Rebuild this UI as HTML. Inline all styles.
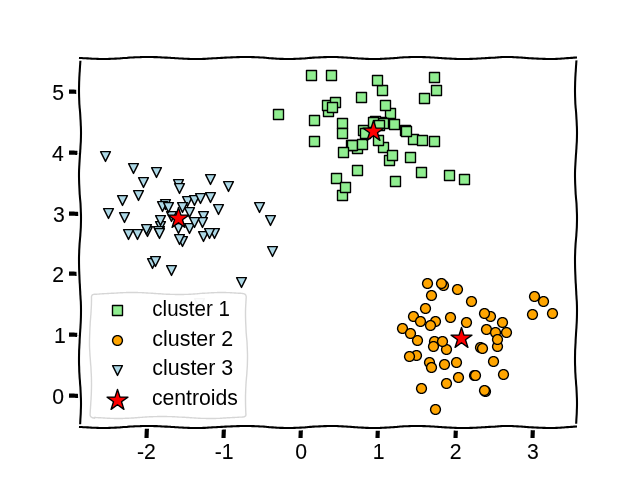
<!DOCTYPE html>
<html lang="en">
<head>
<meta charset="utf-8">
<title>k-means clusters</title>
<style>
html,body{margin:0;padding:0;background:#fff;}
body{width:640px;height:480px;overflow:hidden;}
svg{display:block;}
svg text{font-family:"Liberation Sans",sans-serif;}
</style>
</head>
<body>
<svg width="640" height="480" viewBox="0 0 640 480">
<defs>
<clipPath id="c0"><rect x="80" y="57.6" width="496" height="369.6"/></clipPath>
</defs>
<g fill="#90ee90" stroke="#000000" stroke-width="1.39" stroke-linejoin="round" clip-path="url(#c0)">
<path transform="translate(342 195)" d="M-4.50 5.50L5.50 5.50L5.50 -4.50L-4.50 -4.50Z"/>
<path transform="translate(363 130)" d="M-4.50 5.50L5.50 5.50L5.50 -4.50L-4.50 -4.50Z"/>
<path transform="translate(342 123)" d="M-4.50 5.50L5.50 5.50L5.50 -4.50L-4.50 -4.50Z"/>
<path transform="translate(424 98)" d="M-4.50 5.50L5.50 5.50L5.50 -4.50L-4.50 -4.50Z"/>
<path transform="translate(436 90)" d="M-4.50 5.50L5.50 5.50L5.50 -4.50L-4.50 -4.50Z"/>
<path transform="translate(434 77)" d="M-4.50 5.50L5.50 5.50L5.50 -4.50L-4.50 -4.50Z"/>
<path transform="translate(357 148)" d="M-4.50 5.50L5.50 5.50L5.50 -4.50L-4.50 -4.50Z"/>
<path transform="translate(314 120)" d="M-4.50 5.50L5.50 5.50L5.50 -4.50L-4.50 -4.50Z"/>
<path transform="translate(351 145)" d="M-4.50 5.50L5.50 5.50L5.50 -4.50L-4.50 -4.50Z"/>
<path transform="translate(389 160)" d="M-4.50 5.50L5.50 5.50L5.50 -4.50L-4.50 -4.50Z"/>
<path transform="translate(382 90)" d="M-4.50 5.50L5.50 5.50L5.50 -4.50L-4.50 -4.50Z"/>
<path transform="translate(395 181)" d="M-4.50 5.50L5.50 5.50L5.50 -4.50L-4.50 -4.50Z"/>
<path transform="translate(328 111)" d="M-4.50 5.50L5.50 5.50L5.50 -4.50L-4.50 -4.50Z"/>
<path transform="translate(352 145)" d="M-4.50 5.50L5.50 5.50L5.50 -4.50L-4.50 -4.50Z"/>
<path transform="translate(390 113)" d="M-4.50 5.50L5.50 5.50L5.50 -4.50L-4.50 -4.50Z"/>
<path transform="translate(327 105)" d="M-4.50 5.50L5.50 5.50L5.50 -4.50L-4.50 -4.50Z"/>
<path transform="translate(464 179)" d="M-4.50 5.50L5.50 5.50L5.50 -4.50L-4.50 -4.50Z"/>
<path transform="translate(413 139)" d="M-4.50 5.50L5.50 5.50L5.50 -4.50L-4.50 -4.50Z"/>
<path transform="translate(335 102)" d="M-4.50 5.50L5.50 5.50L5.50 -4.50L-4.50 -4.50Z"/>
<path transform="translate(385 105)" d="M-4.50 5.50L5.50 5.50L5.50 -4.50L-4.50 -4.50Z"/>
<path transform="translate(357 170)" d="M-4.50 5.50L5.50 5.50L5.50 -4.50L-4.50 -4.50Z"/>
<path transform="translate(405 130)" d="M-4.50 5.50L5.50 5.50L5.50 -4.50L-4.50 -4.50Z"/>
<path transform="translate(383 147)" d="M-4.50 5.50L5.50 5.50L5.50 -4.50L-4.50 -4.50Z"/>
<path transform="translate(381 122)" d="M-4.50 5.50L5.50 5.50L5.50 -4.50L-4.50 -4.50Z"/>
<path transform="translate(278 114)" d="M-4.50 5.50L5.50 5.50L5.50 -4.50L-4.50 -4.50Z"/>
<path transform="translate(311 75)" d="M-4.50 5.50L5.50 5.50L5.50 -4.50L-4.50 -4.50Z"/>
<path transform="translate(421 172)" d="M-4.50 5.50L5.50 5.50L5.50 -4.50L-4.50 -4.50Z"/>
<path transform="translate(331 75)" d="M-4.50 5.50L5.50 5.50L5.50 -4.50L-4.50 -4.50Z"/>
<path transform="translate(365 133)" d="M-4.50 5.50L5.50 5.50L5.50 -4.50L-4.50 -4.50Z"/>
<path transform="translate(422 140)" d="M-4.50 5.50L5.50 5.50L5.50 -4.50L-4.50 -4.50Z"/>
<path transform="translate(375 121)" d="M-4.50 5.50L5.50 5.50L5.50 -4.50L-4.50 -4.50Z"/>
<path transform="translate(336 178)" d="M-4.50 5.50L5.50 5.50L5.50 -4.50L-4.50 -4.50Z"/>
<path transform="translate(394 124)" d="M-4.50 5.50L5.50 5.50L5.50 -4.50L-4.50 -4.50Z"/>
<path transform="translate(378 140)" d="M-4.50 5.50L5.50 5.50L5.50 -4.50L-4.50 -4.50Z"/>
<path transform="translate(361 97)" d="M-4.50 5.50L5.50 5.50L5.50 -4.50L-4.50 -4.50Z"/>
<path transform="translate(449 175)" d="M-4.50 5.50L5.50 5.50L5.50 -4.50L-4.50 -4.50Z"/>
<path transform="translate(383 123)" d="M-4.50 5.50L5.50 5.50L5.50 -4.50L-4.50 -4.50Z"/>
<path transform="translate(434 141)" d="M-4.50 5.50L5.50 5.50L5.50 -4.50L-4.50 -4.50Z"/>
<path transform="translate(373 122)" d="M-4.50 5.50L5.50 5.50L5.50 -4.50L-4.50 -4.50Z"/>
<path transform="translate(332 107)" d="M-4.50 5.50L5.50 5.50L5.50 -4.50L-4.50 -4.50Z"/>
<path transform="translate(362 144)" d="M-4.50 5.50L5.50 5.50L5.50 -4.50L-4.50 -4.50Z"/>
<path transform="translate(377 80)" d="M-4.50 5.50L5.50 5.50L5.50 -4.50L-4.50 -4.50Z"/>
<path transform="translate(379 125)" d="M-4.50 5.50L5.50 5.50L5.50 -4.50L-4.50 -4.50Z"/>
<path transform="translate(410 157)" d="M-4.50 5.50L5.50 5.50L5.50 -4.50L-4.50 -4.50Z"/>
<path transform="translate(343 152)" d="M-4.50 5.50L5.50 5.50L5.50 -4.50L-4.50 -4.50Z"/>
<path transform="translate(342 133)" d="M-4.50 5.50L5.50 5.50L5.50 -4.50L-4.50 -4.50Z"/>
<path transform="translate(314 141)" d="M-4.50 5.50L5.50 5.50L5.50 -4.50L-4.50 -4.50Z"/>
<path transform="translate(345 187)" d="M-4.50 5.50L5.50 5.50L5.50 -4.50L-4.50 -4.50Z"/>
<path transform="translate(406 131)" d="M-4.50 5.50L5.50 5.50L5.50 -4.50L-4.50 -4.50Z"/>
<path transform="translate(392 155)" d="M-4.50 5.50L5.50 5.50L5.50 -4.50L-4.50 -4.50Z"/>
</g>
<g fill="#ffa500" stroke="#000000" stroke-width="1.39" stroke-linejoin="round" clip-path="url(#c0)">
<path transform="translate(502 322)" d="M0.50 5.41L1.47 5.35L3.24 4.61L3.97 3.97L4.61 3.24L5.35 1.47L5.41 0.50L5.35 -0.47L4.61 -2.24L3.97 -2.97L3.24 -3.61L1.47 -4.35L0.50 -4.41L-0.47 -4.35L-2.24 -3.61L-2.97 -2.97L-3.61 -2.24L-4.35 -0.47L-4.41 0.50L-4.35 1.47L-3.61 3.24L-2.97 3.97L-2.24 4.61L-0.47 5.35L0.50 5.41Z"/>
<path transform="translate(503 374)" d="M0.50 5.41L1.47 5.35L3.24 4.61L3.97 3.97L4.61 3.24L5.35 1.47L5.41 0.50L5.35 -0.47L4.61 -2.24L3.97 -2.97L3.24 -3.61L1.47 -4.35L0.50 -4.41L-0.47 -4.35L-2.24 -3.61L-2.97 -2.97L-3.61 -2.24L-4.35 -0.47L-4.41 0.50L-4.35 1.47L-3.61 3.24L-2.97 3.97L-2.24 4.61L-0.47 5.35L0.50 5.41Z"/>
<path transform="translate(485 391)" d="M0.50 5.41L1.47 5.35L3.24 4.61L3.97 3.97L4.61 3.24L5.35 1.47L5.41 0.50L5.35 -0.47L4.61 -2.24L3.97 -2.97L3.24 -3.61L1.47 -4.35L0.50 -4.41L-0.47 -4.35L-2.24 -3.61L-2.97 -2.97L-3.61 -2.24L-4.35 -0.47L-4.41 0.50L-4.35 1.47L-3.61 3.24L-2.97 3.97L-2.24 4.61L-0.47 5.35L0.50 5.41Z"/>
<path transform="translate(543 301)" d="M0.50 5.41L1.47 5.35L3.24 4.61L3.97 3.97L4.61 3.24L5.35 1.47L5.41 0.50L5.35 -0.47L4.61 -2.24L3.97 -2.97L3.24 -3.61L1.47 -4.35L0.50 -4.41L-0.47 -4.35L-2.24 -3.61L-2.97 -2.97L-3.61 -2.24L-4.35 -0.47L-4.41 0.50L-4.35 1.47L-3.61 3.24L-2.97 3.97L-2.24 4.61L-0.47 5.35L0.50 5.41Z"/>
<path transform="translate(446 349)" d="M0.50 5.41L1.47 5.35L3.24 4.61L3.97 3.97L4.61 3.24L5.35 1.47L5.41 0.50L5.35 -0.47L4.61 -2.24L3.97 -2.97L3.24 -3.61L1.47 -4.35L0.50 -4.41L-0.47 -4.35L-2.24 -3.61L-2.97 -2.97L-3.61 -2.24L-4.35 -0.47L-4.41 0.50L-4.35 1.47L-3.61 3.24L-2.97 3.97L-2.24 4.61L-0.47 5.35L0.50 5.41Z"/>
<path transform="translate(458 377)" d="M0.50 5.41L1.47 5.35L3.24 4.61L3.97 3.97L4.61 3.24L5.35 1.47L5.41 0.50L5.35 -0.47L4.61 -2.24L3.97 -2.97L3.24 -3.61L1.47 -4.35L0.50 -4.41L-0.47 -4.35L-2.24 -3.61L-2.97 -2.97L-3.61 -2.24L-4.35 -0.47L-4.41 0.50L-4.35 1.47L-3.61 3.24L-2.97 3.97L-2.24 4.61L-0.47 5.35L0.50 5.41Z"/>
<path transform="translate(490 316)" d="M0.50 5.41L1.47 5.35L3.24 4.61L3.97 3.97L4.61 3.24L5.35 1.47L5.41 0.50L5.35 -0.47L4.61 -2.24L3.97 -2.97L3.24 -3.61L1.47 -4.35L0.50 -4.41L-0.47 -4.35L-2.24 -3.61L-2.97 -2.97L-3.61 -2.24L-4.35 -0.47L-4.41 0.50L-4.35 1.47L-3.61 3.24L-2.97 3.97L-2.24 4.61L-0.47 5.35L0.50 5.41Z"/>
<path transform="translate(480 347)" d="M0.50 5.41L1.47 5.35L3.24 4.61L3.97 3.97L4.61 3.24L5.35 1.47L5.41 0.50L5.35 -0.47L4.61 -2.24L3.97 -2.97L3.24 -3.61L1.47 -4.35L0.50 -4.41L-0.47 -4.35L-2.24 -3.61L-2.97 -2.97L-3.61 -2.24L-4.35 -0.47L-4.41 0.50L-4.35 1.47L-3.61 3.24L-2.97 3.97L-2.24 4.61L-0.47 5.35L0.50 5.41Z"/>
<path transform="translate(484 313)" d="M0.50 5.41L1.47 5.35L3.24 4.61L3.97 3.97L4.61 3.24L5.35 1.47L5.41 0.50L5.35 -0.47L4.61 -2.24L3.97 -2.97L3.24 -3.61L1.47 -4.35L0.50 -4.41L-0.47 -4.35L-2.24 -3.61L-2.97 -2.97L-3.61 -2.24L-4.35 -0.47L-4.41 0.50L-4.35 1.47L-3.61 3.24L-2.97 3.97L-2.24 4.61L-0.47 5.35L0.50 5.41Z"/>
<path transform="translate(416 355)" d="M0.50 5.41L1.47 5.35L3.24 4.61L3.97 3.97L4.61 3.24L5.35 1.47L5.41 0.50L5.35 -0.47L4.61 -2.24L3.97 -2.97L3.24 -3.61L1.47 -4.35L0.50 -4.41L-0.47 -4.35L-2.24 -3.61L-2.97 -2.97L-3.61 -2.24L-4.35 -0.47L-4.41 0.50L-4.35 1.47L-3.61 3.24L-2.97 3.97L-2.24 4.61L-0.47 5.35L0.50 5.41Z"/>
<path transform="translate(431 295)" d="M0.50 5.41L1.47 5.35L3.24 4.61L3.97 3.97L4.61 3.24L5.35 1.47L5.41 0.50L5.35 -0.47L4.61 -2.24L3.97 -2.97L3.24 -3.61L1.47 -4.35L0.50 -4.41L-0.47 -4.35L-2.24 -3.61L-2.97 -2.97L-3.61 -2.24L-4.35 -0.47L-4.41 0.50L-4.35 1.47L-3.61 3.24L-2.97 3.97L-2.24 4.61L-0.47 5.35L0.50 5.41Z"/>
<path transform="translate(532 314)" d="M0.50 5.41L1.47 5.35L3.24 4.61L3.97 3.97L4.61 3.24L5.35 1.47L5.41 0.50L5.35 -0.47L4.61 -2.24L3.97 -2.97L3.24 -3.61L1.47 -4.35L0.50 -4.41L-0.47 -4.35L-2.24 -3.61L-2.97 -2.97L-3.61 -2.24L-4.35 -0.47L-4.41 0.50L-4.35 1.47L-3.61 3.24L-2.97 3.97L-2.24 4.61L-0.47 5.35L0.50 5.41Z"/>
<path transform="translate(435 321)" d="M0.50 5.41L1.47 5.35L3.24 4.61L3.97 3.97L4.61 3.24L5.35 1.47L5.41 0.50L5.35 -0.47L4.61 -2.24L3.97 -2.97L3.24 -3.61L1.47 -4.35L0.50 -4.41L-0.47 -4.35L-2.24 -3.61L-2.97 -2.97L-3.61 -2.24L-4.35 -0.47L-4.41 0.50L-4.35 1.47L-3.61 3.24L-2.97 3.97L-2.24 4.61L-0.47 5.35L0.50 5.41Z"/>
<path transform="translate(446 383)" d="M0.50 5.41L1.47 5.35L3.24 4.61L3.97 3.97L4.61 3.24L5.35 1.47L5.41 0.50L5.35 -0.47L4.61 -2.24L3.97 -2.97L3.24 -3.61L1.47 -4.35L0.50 -4.41L-0.47 -4.35L-2.24 -3.61L-2.97 -2.97L-3.61 -2.24L-4.35 -0.47L-4.41 0.50L-4.35 1.47L-3.61 3.24L-2.97 3.97L-2.24 4.61L-0.47 5.35L0.50 5.41Z"/>
<path transform="translate(466 322)" d="M0.50 5.41L1.47 5.35L3.24 4.61L3.97 3.97L4.61 3.24L5.35 1.47L5.41 0.50L5.35 -0.47L4.61 -2.24L3.97 -2.97L3.24 -3.61L1.47 -4.35L0.50 -4.41L-0.47 -4.35L-2.24 -3.61L-2.97 -2.97L-3.61 -2.24L-4.35 -0.47L-4.41 0.50L-4.35 1.47L-3.61 3.24L-2.97 3.97L-2.24 4.61L-0.47 5.35L0.50 5.41Z"/>
<path transform="translate(493 361)" d="M0.50 5.41L1.47 5.35L3.24 4.61L3.97 3.97L4.61 3.24L5.35 1.47L5.41 0.50L5.35 -0.47L4.61 -2.24L3.97 -2.97L3.24 -3.61L1.47 -4.35L0.50 -4.41L-0.47 -4.35L-2.24 -3.61L-2.97 -2.97L-3.61 -2.24L-4.35 -0.47L-4.41 0.50L-4.35 1.47L-3.61 3.24L-2.97 3.97L-2.24 4.61L-0.47 5.35L0.50 5.41Z"/>
<path transform="translate(443 285)" d="M0.50 5.41L1.47 5.35L3.24 4.61L3.97 3.97L4.61 3.24L5.35 1.47L5.41 0.50L5.35 -0.47L4.61 -2.24L3.97 -2.97L3.24 -3.61L1.47 -4.35L0.50 -4.41L-0.47 -4.35L-2.24 -3.61L-2.97 -2.97L-3.61 -2.24L-4.35 -0.47L-4.41 0.50L-4.35 1.47L-3.61 3.24L-2.97 3.97L-2.24 4.61L-0.47 5.35L0.50 5.41Z"/>
<path transform="translate(444 364)" d="M0.50 5.41L1.47 5.35L3.24 4.61L3.97 3.97L4.61 3.24L5.35 1.47L5.41 0.50L5.35 -0.47L4.61 -2.24L3.97 -2.97L3.24 -3.61L1.47 -4.35L0.50 -4.41L-0.47 -4.35L-2.24 -3.61L-2.97 -2.97L-3.61 -2.24L-4.35 -0.47L-4.41 0.50L-4.35 1.47L-3.61 3.24L-2.97 3.97L-2.24 4.61L-0.47 5.35L0.50 5.41Z"/>
<path transform="translate(486 329)" d="M0.50 5.41L1.47 5.35L3.24 4.61L3.97 3.97L4.61 3.24L5.35 1.47L5.41 0.50L5.35 -0.47L4.61 -2.24L3.97 -2.97L3.24 -3.61L1.47 -4.35L0.50 -4.41L-0.47 -4.35L-2.24 -3.61L-2.97 -2.97L-3.61 -2.24L-4.35 -0.47L-4.41 0.50L-4.35 1.47L-3.61 3.24L-2.97 3.97L-2.24 4.61L-0.47 5.35L0.50 5.41Z"/>
<path transform="translate(534 296)" d="M0.50 5.41L1.47 5.35L3.24 4.61L3.97 3.97L4.61 3.24L5.35 1.47L5.41 0.50L5.35 -0.47L4.61 -2.24L3.97 -2.97L3.24 -3.61L1.47 -4.35L0.50 -4.41L-0.47 -4.35L-2.24 -3.61L-2.97 -2.97L-3.61 -2.24L-4.35 -0.47L-4.41 0.50L-4.35 1.47L-3.61 3.24L-2.97 3.97L-2.24 4.61L-0.47 5.35L0.50 5.41Z"/>
<path transform="translate(427 283)" d="M0.50 5.41L1.47 5.35L3.24 4.61L3.97 3.97L4.61 3.24L5.35 1.47L5.41 0.50L5.35 -0.47L4.61 -2.24L3.97 -2.97L3.24 -3.61L1.47 -4.35L0.50 -4.41L-0.47 -4.35L-2.24 -3.61L-2.97 -2.97L-3.61 -2.24L-4.35 -0.47L-4.41 0.50L-4.35 1.47L-3.61 3.24L-2.97 3.97L-2.24 4.61L-0.47 5.35L0.50 5.41Z"/>
<path transform="translate(413 316)" d="M0.50 5.41L1.47 5.35L3.24 4.61L3.97 3.97L4.61 3.24L5.35 1.47L5.41 0.50L5.35 -0.47L4.61 -2.24L3.97 -2.97L3.24 -3.61L1.47 -4.35L0.50 -4.41L-0.47 -4.35L-2.24 -3.61L-2.97 -2.97L-3.61 -2.24L-4.35 -0.47L-4.41 0.50L-4.35 1.47L-3.61 3.24L-2.97 3.97L-2.24 4.61L-0.47 5.35L0.50 5.41Z"/>
<path transform="translate(497 346)" d="M0.50 5.41L1.47 5.35L3.24 4.61L3.97 3.97L4.61 3.24L5.35 1.47L5.41 0.50L5.35 -0.47L4.61 -2.24L3.97 -2.97L3.24 -3.61L1.47 -4.35L0.50 -4.41L-0.47 -4.35L-2.24 -3.61L-2.97 -2.97L-3.61 -2.24L-4.35 -0.47L-4.41 0.50L-4.35 1.47L-3.61 3.24L-2.97 3.97L-2.24 4.61L-0.47 5.35L0.50 5.41Z"/>
<path transform="translate(420 321)" d="M0.50 5.41L1.47 5.35L3.24 4.61L3.97 3.97L4.61 3.24L5.35 1.47L5.41 0.50L5.35 -0.47L4.61 -2.24L3.97 -2.97L3.24 -3.61L1.47 -4.35L0.50 -4.41L-0.47 -4.35L-2.24 -3.61L-2.97 -2.97L-3.61 -2.24L-4.35 -0.47L-4.41 0.50L-4.35 1.47L-3.61 3.24L-2.97 3.97L-2.24 4.61L-0.47 5.35L0.50 5.41Z"/>
<path transform="translate(434 341)" d="M0.50 5.41L1.47 5.35L3.24 4.61L3.97 3.97L4.61 3.24L5.35 1.47L5.41 0.50L5.35 -0.47L4.61 -2.24L3.97 -2.97L3.24 -3.61L1.47 -4.35L0.50 -4.41L-0.47 -4.35L-2.24 -3.61L-2.97 -2.97L-3.61 -2.24L-4.35 -0.47L-4.41 0.50L-4.35 1.47L-3.61 3.24L-2.97 3.97L-2.24 4.61L-0.47 5.35L0.50 5.41Z"/>
<path transform="translate(429 362)" d="M0.50 5.41L1.47 5.35L3.24 4.61L3.97 3.97L4.61 3.24L5.35 1.47L5.41 0.50L5.35 -0.47L4.61 -2.24L3.97 -2.97L3.24 -3.61L1.47 -4.35L0.50 -4.41L-0.47 -4.35L-2.24 -3.61L-2.97 -2.97L-3.61 -2.24L-4.35 -0.47L-4.41 0.50L-4.35 1.47L-3.61 3.24L-2.97 3.97L-2.24 4.61L-0.47 5.35L0.50 5.41Z"/>
<path transform="translate(471 301)" d="M0.50 5.41L1.47 5.35L3.24 4.61L3.97 3.97L4.61 3.24L5.35 1.47L5.41 0.50L5.35 -0.47L4.61 -2.24L3.97 -2.97L3.24 -3.61L1.47 -4.35L0.50 -4.41L-0.47 -4.35L-2.24 -3.61L-2.97 -2.97L-3.61 -2.24L-4.35 -0.47L-4.41 0.50L-4.35 1.47L-3.61 3.24L-2.97 3.97L-2.24 4.61L-0.47 5.35L0.50 5.41Z"/>
<path transform="translate(552 313)" d="M0.50 5.41L1.47 5.35L3.24 4.61L3.97 3.97L4.61 3.24L5.35 1.47L5.41 0.50L5.35 -0.47L4.61 -2.24L3.97 -2.97L3.24 -3.61L1.47 -4.35L0.50 -4.41L-0.47 -4.35L-2.24 -3.61L-2.97 -2.97L-3.61 -2.24L-4.35 -0.47L-4.41 0.50L-4.35 1.47L-3.61 3.24L-2.97 3.97L-2.24 4.61L-0.47 5.35L0.50 5.41Z"/>
<path transform="translate(495 332)" d="M0.50 5.41L1.47 5.35L3.24 4.61L3.97 3.97L4.61 3.24L5.35 1.47L5.41 0.50L5.35 -0.47L4.61 -2.24L3.97 -2.97L3.24 -3.61L1.47 -4.35L0.50 -4.41L-0.47 -4.35L-2.24 -3.61L-2.97 -2.97L-3.61 -2.24L-4.35 -0.47L-4.41 0.50L-4.35 1.47L-3.61 3.24L-2.97 3.97L-2.24 4.61L-0.47 5.35L0.50 5.41Z"/>
<path transform="translate(484 390)" d="M0.50 5.41L1.47 5.35L3.24 4.61L3.97 3.97L4.61 3.24L5.35 1.47L5.41 0.50L5.35 -0.47L4.61 -2.24L3.97 -2.97L3.24 -3.61L1.47 -4.35L0.50 -4.41L-0.47 -4.35L-2.24 -3.61L-2.97 -2.97L-3.61 -2.24L-4.35 -0.47L-4.41 0.50L-4.35 1.47L-3.61 3.24L-2.97 3.97L-2.24 4.61L-0.47 5.35L0.50 5.41Z"/>
<path transform="translate(474 375)" d="M0.50 5.41L1.47 5.35L3.24 4.61L3.97 3.97L4.61 3.24L5.35 1.47L5.41 0.50L5.35 -0.47L4.61 -2.24L3.97 -2.97L3.24 -3.61L1.47 -4.35L0.50 -4.41L-0.47 -4.35L-2.24 -3.61L-2.97 -2.97L-3.61 -2.24L-4.35 -0.47L-4.41 0.50L-4.35 1.47L-3.61 3.24L-2.97 3.97L-2.24 4.61L-0.47 5.35L0.50 5.41Z"/>
<path transform="translate(402 328)" d="M0.50 5.41L1.47 5.35L3.24 4.61L3.97 3.97L4.61 3.24L5.35 1.47L5.41 0.50L5.35 -0.47L4.61 -2.24L3.97 -2.97L3.24 -3.61L1.47 -4.35L0.50 -4.41L-0.47 -4.35L-2.24 -3.61L-2.97 -2.97L-3.61 -2.24L-4.35 -0.47L-4.41 0.50L-4.35 1.47L-3.61 3.24L-2.97 3.97L-2.24 4.61L-0.47 5.35L0.50 5.41Z"/>
<path transform="translate(433 346)" d="M0.50 5.41L1.47 5.35L3.24 4.61L3.97 3.97L4.61 3.24L5.35 1.47L5.41 0.50L5.35 -0.47L4.61 -2.24L3.97 -2.97L3.24 -3.61L1.47 -4.35L0.50 -4.41L-0.47 -4.35L-2.24 -3.61L-2.97 -2.97L-3.61 -2.24L-4.35 -0.47L-4.41 0.50L-4.35 1.47L-3.61 3.24L-2.97 3.97L-2.24 4.61L-0.47 5.35L0.50 5.41Z"/>
<path transform="translate(409 356)" d="M0.50 5.41L1.47 5.35L3.24 4.61L3.97 3.97L4.61 3.24L5.35 1.47L5.41 0.50L5.35 -0.47L4.61 -2.24L3.97 -2.97L3.24 -3.61L1.47 -4.35L0.50 -4.41L-0.47 -4.35L-2.24 -3.61L-2.97 -2.97L-3.61 -2.24L-4.35 -0.47L-4.41 0.50L-4.35 1.47L-3.61 3.24L-2.97 3.97L-2.24 4.61L-0.47 5.35L0.50 5.41Z"/>
<path transform="translate(457 289)" d="M0.50 5.41L1.47 5.35L3.24 4.61L3.97 3.97L4.61 3.24L5.35 1.47L5.41 0.50L5.35 -0.47L4.61 -2.24L3.97 -2.97L3.24 -3.61L1.47 -4.35L0.50 -4.41L-0.47 -4.35L-2.24 -3.61L-2.97 -2.97L-3.61 -2.24L-4.35 -0.47L-4.41 0.50L-4.35 1.47L-3.61 3.24L-2.97 3.97L-2.24 4.61L-0.47 5.35L0.50 5.41Z"/>
<path transform="translate(430 325)" d="M0.50 5.41L1.47 5.35L3.24 4.61L3.97 3.97L4.61 3.24L5.35 1.47L5.41 0.50L5.35 -0.47L4.61 -2.24L3.97 -2.97L3.24 -3.61L1.47 -4.35L0.50 -4.41L-0.47 -4.35L-2.24 -3.61L-2.97 -2.97L-3.61 -2.24L-4.35 -0.47L-4.41 0.50L-4.35 1.47L-3.61 3.24L-2.97 3.97L-2.24 4.61L-0.47 5.35L0.50 5.41Z"/>
<path transform="translate(497 339)" d="M0.50 5.41L1.47 5.35L3.24 4.61L3.97 3.97L4.61 3.24L5.35 1.47L5.41 0.50L5.35 -0.47L4.61 -2.24L3.97 -2.97L3.24 -3.61L1.47 -4.35L0.50 -4.41L-0.47 -4.35L-2.24 -3.61L-2.97 -2.97L-3.61 -2.24L-4.35 -0.47L-4.41 0.50L-4.35 1.47L-3.61 3.24L-2.97 3.97L-2.24 4.61L-0.47 5.35L0.50 5.41Z"/>
<path transform="translate(456 362)" d="M0.50 5.41L1.47 5.35L3.24 4.61L3.97 3.97L4.61 3.24L5.35 1.47L5.41 0.50L5.35 -0.47L4.61 -2.24L3.97 -2.97L3.24 -3.61L1.47 -4.35L0.50 -4.41L-0.47 -4.35L-2.24 -3.61L-2.97 -2.97L-3.61 -2.24L-4.35 -0.47L-4.41 0.50L-4.35 1.47L-3.61 3.24L-2.97 3.97L-2.24 4.61L-0.47 5.35L0.50 5.41Z"/>
<path transform="translate(417 340)" d="M0.50 5.41L1.47 5.35L3.24 4.61L3.97 3.97L4.61 3.24L5.35 1.47L5.41 0.50L5.35 -0.47L4.61 -2.24L3.97 -2.97L3.24 -3.61L1.47 -4.35L0.50 -4.41L-0.47 -4.35L-2.24 -3.61L-2.97 -2.97L-3.61 -2.24L-4.35 -0.47L-4.41 0.50L-4.35 1.47L-3.61 3.24L-2.97 3.97L-2.24 4.61L-0.47 5.35L0.50 5.41Z"/>
<path transform="translate(442 341)" d="M0.50 5.41L1.47 5.35L3.24 4.61L3.97 3.97L4.61 3.24L5.35 1.47L5.41 0.50L5.35 -0.47L4.61 -2.24L3.97 -2.97L3.24 -3.61L1.47 -4.35L0.50 -4.41L-0.47 -4.35L-2.24 -3.61L-2.97 -2.97L-3.61 -2.24L-4.35 -0.47L-4.41 0.50L-4.35 1.47L-3.61 3.24L-2.97 3.97L-2.24 4.61L-0.47 5.35L0.50 5.41Z"/>
<path transform="translate(506 332)" d="M0.50 5.41L1.47 5.35L3.24 4.61L3.97 3.97L4.61 3.24L5.35 1.47L5.41 0.50L5.35 -0.47L4.61 -2.24L3.97 -2.97L3.24 -3.61L1.47 -4.35L0.50 -4.41L-0.47 -4.35L-2.24 -3.61L-2.97 -2.97L-3.61 -2.24L-4.35 -0.47L-4.41 0.50L-4.35 1.47L-3.61 3.24L-2.97 3.97L-2.24 4.61L-0.47 5.35L0.50 5.41Z"/>
<path transform="translate(441 283)" d="M0.50 5.41L1.47 5.35L3.24 4.61L3.97 3.97L4.61 3.24L5.35 1.47L5.41 0.50L5.35 -0.47L4.61 -2.24L3.97 -2.97L3.24 -3.61L1.47 -4.35L0.50 -4.41L-0.47 -4.35L-2.24 -3.61L-2.97 -2.97L-3.61 -2.24L-4.35 -0.47L-4.41 0.50L-4.35 1.47L-3.61 3.24L-2.97 3.97L-2.24 4.61L-0.47 5.35L0.50 5.41Z"/>
<path transform="translate(450 317)" d="M0.50 5.41L1.47 5.35L3.24 4.61L3.97 3.97L4.61 3.24L5.35 1.47L5.41 0.50L5.35 -0.47L4.61 -2.24L3.97 -2.97L3.24 -3.61L1.47 -4.35L0.50 -4.41L-0.47 -4.35L-2.24 -3.61L-2.97 -2.97L-3.61 -2.24L-4.35 -0.47L-4.41 0.50L-4.35 1.47L-3.61 3.24L-2.97 3.97L-2.24 4.61L-0.47 5.35L0.50 5.41Z"/>
<path transform="translate(431 367)" d="M0.50 5.41L1.47 5.35L3.24 4.61L3.97 3.97L4.61 3.24L5.35 1.47L5.41 0.50L5.35 -0.47L4.61 -2.24L3.97 -2.97L3.24 -3.61L1.47 -4.35L0.50 -4.41L-0.47 -4.35L-2.24 -3.61L-2.97 -2.97L-3.61 -2.24L-4.35 -0.47L-4.41 0.50L-4.35 1.47L-3.61 3.24L-2.97 3.97L-2.24 4.61L-0.47 5.35L0.50 5.41Z"/>
<path transform="translate(410 333)" d="M0.50 5.41L1.47 5.35L3.24 4.61L3.97 3.97L4.61 3.24L5.35 1.47L5.41 0.50L5.35 -0.47L4.61 -2.24L3.97 -2.97L3.24 -3.61L1.47 -4.35L0.50 -4.41L-0.47 -4.35L-2.24 -3.61L-2.97 -2.97L-3.61 -2.24L-4.35 -0.47L-4.41 0.50L-4.35 1.47L-3.61 3.24L-2.97 3.97L-2.24 4.61L-0.47 5.35L0.50 5.41Z"/>
<path transform="translate(425 308)" d="M0.50 5.41L1.47 5.35L3.24 4.61L3.97 3.97L4.61 3.24L5.35 1.47L5.41 0.50L5.35 -0.47L4.61 -2.24L3.97 -2.97L3.24 -3.61L1.47 -4.35L0.50 -4.41L-0.47 -4.35L-2.24 -3.61L-2.97 -2.97L-3.61 -2.24L-4.35 -0.47L-4.41 0.50L-4.35 1.47L-3.61 3.24L-2.97 3.97L-2.24 4.61L-0.47 5.35L0.50 5.41Z"/>
<path transform="translate(435 409)" d="M0.50 5.41L1.47 5.35L3.24 4.61L3.97 3.97L4.61 3.24L5.35 1.47L5.41 0.50L5.35 -0.47L4.61 -2.24L3.97 -2.97L3.24 -3.61L1.47 -4.35L0.50 -4.41L-0.47 -4.35L-2.24 -3.61L-2.97 -2.97L-3.61 -2.24L-4.35 -0.47L-4.41 0.50L-4.35 1.47L-3.61 3.24L-2.97 3.97L-2.24 4.61L-0.47 5.35L0.50 5.41Z"/>
<path transform="translate(482 348)" d="M0.50 5.41L1.47 5.35L3.24 4.61L3.97 3.97L4.61 3.24L5.35 1.47L5.41 0.50L5.35 -0.47L4.61 -2.24L3.97 -2.97L3.24 -3.61L1.47 -4.35L0.50 -4.41L-0.47 -4.35L-2.24 -3.61L-2.97 -2.97L-3.61 -2.24L-4.35 -0.47L-4.41 0.50L-4.35 1.47L-3.61 3.24L-2.97 3.97L-2.24 4.61L-0.47 5.35L0.50 5.41Z"/>
<path transform="translate(475 375)" d="M0.50 5.41L1.47 5.35L3.24 4.61L3.97 3.97L4.61 3.24L5.35 1.47L5.41 0.50L5.35 -0.47L4.61 -2.24L3.97 -2.97L3.24 -3.61L1.47 -4.35L0.50 -4.41L-0.47 -4.35L-2.24 -3.61L-2.97 -2.97L-3.61 -2.24L-4.35 -0.47L-4.41 0.50L-4.35 1.47L-3.61 3.24L-2.97 3.97L-2.24 4.61L-0.47 5.35L0.50 5.41Z"/>
<path transform="translate(421 388)" d="M0.50 5.41L1.47 5.35L3.24 4.61L3.97 3.97L4.61 3.24L5.35 1.47L5.41 0.50L5.35 -0.47L4.61 -2.24L3.97 -2.97L3.24 -3.61L1.47 -4.35L0.50 -4.41L-0.47 -4.35L-2.24 -3.61L-2.97 -2.97L-3.61 -2.24L-4.35 -0.47L-4.41 0.50L-4.35 1.47L-3.61 3.24L-2.97 3.97L-2.24 4.61L-0.47 5.35L0.50 5.41Z"/>
</g>
<g fill="#add8e6" stroke="#000000" stroke-width="1.39" stroke-linejoin="round" clip-path="url(#c0)">
<path transform="translate(137 234)" d="M0.50 5.41L5.41 -4.41L-4.41 -4.41Z"/>
<path transform="translate(272 251)" d="M0.50 5.41L5.41 -4.41L-4.41 -4.41Z"/>
<path transform="translate(159 231)" d="M0.50 5.41L5.41 -4.41L-4.41 -4.41Z"/>
<path transform="translate(147 231)" d="M0.50 5.41L5.41 -4.41L-4.41 -4.41Z"/>
<path transform="translate(187 201)" d="M0.50 5.41L5.41 -4.41L-4.41 -4.41Z"/>
<path transform="translate(178 228)" d="M0.50 5.41L5.41 -4.41L-4.41 -4.41Z"/>
<path transform="translate(203 236)" d="M0.50 5.41L5.41 -4.41L-4.41 -4.41Z"/>
<path transform="translate(105 156)" d="M0.50 5.41L5.41 -4.41L-4.41 -4.41Z"/>
<path transform="translate(178 184)" d="M0.50 5.41L5.41 -4.41L-4.41 -4.41Z"/>
<path transform="translate(160 226)" d="M0.50 5.41L5.41 -4.41L-4.41 -4.41Z"/>
<path transform="translate(214 233)" d="M0.50 5.41L5.41 -4.41L-4.41 -4.41Z"/>
<path transform="translate(165 204)" d="M0.50 5.41L5.41 -4.41L-4.41 -4.41Z"/>
<path transform="translate(199 303)" d="M0.50 5.41L5.41 -4.41L-4.41 -4.41Z"/>
<path transform="translate(171 270)" d="M0.50 5.41L5.41 -4.41L-4.41 -4.41Z"/>
<path transform="translate(210 197)" d="M0.50 5.41L5.41 -4.41L-4.41 -4.41Z"/>
<path transform="translate(209 233)" d="M0.50 5.41L5.41 -4.41L-4.41 -4.41Z"/>
<path transform="translate(189 212)" d="M0.50 5.41L5.41 -4.41L-4.41 -4.41Z"/>
<path transform="translate(210 179)" d="M0.50 5.41L5.41 -4.41L-4.41 -4.41Z"/>
<path transform="translate(122 200)" d="M0.50 5.41L5.41 -4.41L-4.41 -4.41Z"/>
<path transform="translate(259 207)" d="M0.50 5.41L5.41 -4.41L-4.41 -4.41Z"/>
<path transform="translate(171 216)" d="M0.50 5.41L5.41 -4.41L-4.41 -4.41Z"/>
<path transform="translate(182 207)" d="M0.50 5.41L5.41 -4.41L-4.41 -4.41Z"/>
<path transform="translate(270 220)" d="M0.50 5.41L5.41 -4.41L-4.41 -4.41Z"/>
<path transform="translate(152 263)" d="M0.50 5.41L5.41 -4.41L-4.41 -4.41Z"/>
<path transform="translate(194 200)" d="M0.50 5.41L5.41 -4.41L-4.41 -4.41Z"/>
<path transform="translate(162 206)" d="M0.50 5.41L5.41 -4.41L-4.41 -4.41Z"/>
<path transform="translate(143 182)" d="M0.50 5.41L5.41 -4.41L-4.41 -4.41Z"/>
<path transform="translate(146 229)" d="M0.50 5.41L5.41 -4.41L-4.41 -4.41Z"/>
<path transform="translate(138 195)" d="M0.50 5.41L5.41 -4.41L-4.41 -4.41Z"/>
<path transform="translate(133 168)" d="M0.50 5.41L5.41 -4.41L-4.41 -4.41Z"/>
<path transform="translate(168 207)" d="M0.50 5.41L5.41 -4.41L-4.41 -4.41Z"/>
<path transform="translate(200 198)" d="M0.50 5.41L5.41 -4.41L-4.41 -4.41Z"/>
<path transform="translate(203 216)" d="M0.50 5.41L5.41 -4.41L-4.41 -4.41Z"/>
<path transform="translate(108 213)" d="M0.50 5.41L5.41 -4.41L-4.41 -4.41Z"/>
<path transform="translate(202 222)" d="M0.50 5.41L5.41 -4.41L-4.41 -4.41Z"/>
<path transform="translate(160 220)" d="M0.50 5.41L5.41 -4.41L-4.41 -4.41Z"/>
<path transform="translate(182 241)" d="M0.50 5.41L5.41 -4.41L-4.41 -4.41Z"/>
<path transform="translate(124 217)" d="M0.50 5.41L5.41 -4.41L-4.41 -4.41Z"/>
<path transform="translate(189 228)" d="M0.50 5.41L5.41 -4.41L-4.41 -4.41Z"/>
<path transform="translate(194 222)" d="M0.50 5.41L5.41 -4.41L-4.41 -4.41Z"/>
<path transform="translate(218 209)" d="M0.50 5.41L5.41 -4.41L-4.41 -4.41Z"/>
<path transform="translate(179 239)" d="M0.50 5.41L5.41 -4.41L-4.41 -4.41Z"/>
<path transform="translate(179 188)" d="M0.50 5.41L5.41 -4.41L-4.41 -4.41Z"/>
<path transform="translate(241 282)" d="M0.50 5.41L5.41 -4.41L-4.41 -4.41Z"/>
<path transform="translate(158 231)" d="M0.50 5.41L5.41 -4.41L-4.41 -4.41Z"/>
<path transform="translate(159 233)" d="M0.50 5.41L5.41 -4.41L-4.41 -4.41Z"/>
<path transform="translate(228 186)" d="M0.50 5.41L5.41 -4.41L-4.41 -4.41Z"/>
<path transform="translate(128 234)" d="M0.50 5.41L5.41 -4.41L-4.41 -4.41Z"/>
<path transform="translate(156 172)" d="M0.50 5.41L5.41 -4.41L-4.41 -4.41Z"/>
<path transform="translate(155 261)" d="M0.50 5.41L5.41 -4.41L-4.41 -4.41Z"/>
</g>
<g fill="#ff0000" stroke="#000000" stroke-width="1.39" stroke-linejoin="round" clip-path="url(#c0)">
<path transform="translate(373 131)" d="M0.50 -10.48L-1.97 -2.89L-9.94 -2.89L-3.49 1.80L-5.95 9.38L0.50 4.69L6.95 9.38L4.49 1.80L10.94 -2.89L2.97 -2.89Z"/>
<path transform="translate(461 338)" d="M0.50 -10.48L-1.97 -2.89L-9.94 -2.89L-3.49 1.80L-5.95 9.38L0.50 4.69L6.95 9.38L4.49 1.80L10.94 -2.89L2.97 -2.89Z"/>
<path transform="translate(178 218)" d="M0.50 -10.48L-1.97 -2.89L-9.94 -2.89L-3.49 1.80L-5.95 9.38L0.50 4.69L6.95 9.38L4.49 1.80L10.94 -2.89L2.97 -2.89Z"/>
</g>
<path d="M147.00 427.00L146.98 428.00L146.96 429.00L146.81 430.00L146.80 431.00L146.72 432.00L146.70 433.00L146.68 434.00L146.63 435.00L146.57 436.00L146.55 438.00" fill="#000000" stroke="#ffffff" stroke-width="5.56" stroke-linejoin="round"/>
<path d="M147.00 427.00L146.98 428.00L146.96 429.00L146.81 430.00L146.80 431.00L146.72 432.00L146.70 433.00L146.68 434.00L146.63 435.00L146.57 436.00L146.55 438.00" fill="#000000" stroke="#000000" stroke-width="4.17" stroke-linejoin="round"/>
<text x="137.07" y="458.9" font-size="21.19" textLength="18.84" lengthAdjust="spacingAndGlyphs" fill="#000" stroke="#000" stroke-width="0.1" stroke-linejoin="round">-2</text>
<path d="M224.00 427.00L223.98 428.00L223.96 429.00L223.81 430.00L223.80 431.00L223.72 432.00L223.70 433.00L223.68 434.00L223.63 435.00L223.57 436.00L223.55 438.00" fill="#000000" stroke="#ffffff" stroke-width="5.56" stroke-linejoin="round"/>
<path d="M224.00 427.00L223.98 428.00L223.96 429.00L223.81 430.00L223.80 431.00L223.72 432.00L223.70 433.00L223.68 434.00L223.63 435.00L223.57 436.00L223.55 438.00" fill="#000000" stroke="#000000" stroke-width="4.17" stroke-linejoin="round"/>
<text x="214.63" y="458.9" font-size="21.19" textLength="18.84" lengthAdjust="spacingAndGlyphs" fill="#000" stroke="#000" stroke-width="0.1" stroke-linejoin="round">-1</text>
<path d="M301.00 427.00L300.98 428.00L300.96 429.00L300.81 430.00L300.80 431.00L300.72 432.00L300.70 433.00L300.68 434.00L300.63 435.00L300.57 436.00L300.55 438.00" fill="#000000" stroke="#ffffff" stroke-width="5.56" stroke-linejoin="round"/>
<path d="M301.00 427.00L300.98 428.00L300.96 429.00L300.81 430.00L300.80 431.00L300.72 432.00L300.70 433.00L300.68 434.00L300.63 435.00L300.57 436.00L300.55 438.00" fill="#000000" stroke="#000000" stroke-width="4.17" stroke-linejoin="round"/>
<text x="295.19" y="458.9" font-size="21.19" textLength="11.8" lengthAdjust="spacingAndGlyphs" fill="#000" stroke="#000" stroke-width="0.1" stroke-linejoin="round">0</text>
<path d="M378.00 427.00L377.98 428.00L377.96 429.00L377.81 430.00L377.80 431.00L377.72 432.00L377.70 433.00L377.68 434.00L377.63 435.00L377.57 436.00L377.55 438.00" fill="#000000" stroke="#ffffff" stroke-width="5.56" stroke-linejoin="round"/>
<path d="M378.00 427.00L377.98 428.00L377.96 429.00L377.81 430.00L377.80 431.00L377.72 432.00L377.70 433.00L377.68 434.00L377.63 435.00L377.57 436.00L377.55 438.00" fill="#000000" stroke="#000000" stroke-width="4.17" stroke-linejoin="round"/>
<text x="372.82" y="458.9" font-size="21.19" textLength="11.8" lengthAdjust="spacingAndGlyphs" fill="#000" stroke="#000" stroke-width="0.1" stroke-linejoin="round">1</text>
<path d="M456.00 427.00L455.98 428.00L455.96 429.00L455.81 430.00L455.80 431.00L455.72 432.00L455.70 433.00L455.68 434.00L455.63 435.00L455.57 436.00L455.55 438.00" fill="#000000" stroke="#ffffff" stroke-width="5.56" stroke-linejoin="round"/>
<path d="M456.00 427.00L455.98 428.00L455.96 429.00L455.81 430.00L455.80 431.00L455.72 432.00L455.70 433.00L455.68 434.00L455.63 435.00L455.57 436.00L455.55 438.00" fill="#000000" stroke="#000000" stroke-width="4.17" stroke-linejoin="round"/>
<text x="449.78" y="458.9" font-size="21.19" textLength="11.8" lengthAdjust="spacingAndGlyphs" fill="#000" stroke="#000" stroke-width="0.1" stroke-linejoin="round">2</text>
<path d="M533.00 427.00L532.98 428.00L532.96 429.00L532.81 430.00L532.80 431.00L532.72 432.00L532.70 433.00L532.68 434.00L532.63 435.00L532.57 436.00L532.55 438.00" fill="#000000" stroke="#ffffff" stroke-width="5.56" stroke-linejoin="round"/>
<path d="M533.00 427.00L532.98 428.00L532.96 429.00L532.81 430.00L532.80 431.00L532.72 432.00L532.70 433.00L532.68 434.00L532.63 435.00L532.57 436.00L532.55 438.00" fill="#000000" stroke="#000000" stroke-width="4.17" stroke-linejoin="round"/>
<text x="526.98" y="458.9" font-size="21.19" textLength="11.8" lengthAdjust="spacingAndGlyphs" fill="#000" stroke="#000" stroke-width="0.1" stroke-linejoin="round">3</text>
<path d="M80.00 396.00L79.00 395.98L78.00 395.96L77.00 395.81L76.00 395.80L75.00 395.72L74.00 395.70L73.00 395.68L72.00 395.63L71.00 395.57L69.00 395.55" fill="#000000" stroke="#ffffff" stroke-width="5.56" stroke-linejoin="round"/>
<path d="M80.00 396.00L79.00 395.98L78.00 395.96L77.00 395.81L76.00 395.80L75.00 395.72L74.00 395.70L73.00 395.68L72.00 395.63L71.00 395.57L69.00 395.55" fill="#000000" stroke="#000000" stroke-width="4.17" stroke-linejoin="round"/>
<text x="52.15" y="403.9" font-size="21.19" textLength="11.8" lengthAdjust="spacingAndGlyphs" fill="#000" stroke="#000" stroke-width="0.1" stroke-linejoin="round">0</text>
<path d="M80.00 335.00L79.00 334.98L78.00 334.96L77.00 334.81L76.00 334.80L75.00 334.72L74.00 334.70L73.00 334.68L72.00 334.63L71.00 334.57L69.00 334.55" fill="#000000" stroke="#ffffff" stroke-width="5.56" stroke-linejoin="round"/>
<path d="M80.00 335.00L79.00 334.98L78.00 334.96L77.00 334.81L76.00 334.80L75.00 334.72L74.00 334.70L73.00 334.68L72.00 334.63L71.00 334.57L69.00 334.55" fill="#000000" stroke="#000000" stroke-width="4.17" stroke-linejoin="round"/>
<text x="54.08" y="342.9" font-size="21.19" textLength="11.8" lengthAdjust="spacingAndGlyphs" fill="#000" stroke="#000" stroke-width="0.1" stroke-linejoin="round">1</text>
<path d="M80.00 274.00L79.00 273.98L78.00 273.96L77.00 273.81L76.00 273.80L75.00 273.72L74.00 273.70L73.00 273.68L72.00 273.63L71.00 273.57L69.00 273.55" fill="#000000" stroke="#ffffff" stroke-width="5.56" stroke-linejoin="round"/>
<path d="M80.00 274.00L79.00 273.98L78.00 273.96L77.00 273.81L76.00 273.80L75.00 273.72L74.00 273.70L73.00 273.68L72.00 273.63L71.00 273.57L69.00 273.55" fill="#000000" stroke="#000000" stroke-width="4.17" stroke-linejoin="round"/>
<text x="52.28" y="281.9" font-size="21.19" textLength="11.8" lengthAdjust="spacingAndGlyphs" fill="#000" stroke="#000" stroke-width="0.1" stroke-linejoin="round">2</text>
<path d="M80.00 214.00L79.00 213.98L78.00 213.96L77.00 213.81L76.00 213.80L75.00 213.72L74.00 213.70L73.00 213.68L72.00 213.63L71.00 213.57L69.00 213.55" fill="#000000" stroke="#ffffff" stroke-width="5.56" stroke-linejoin="round"/>
<path d="M80.00 214.00L79.00 213.98L78.00 213.96L77.00 213.81L76.00 213.80L75.00 213.72L74.00 213.70L73.00 213.68L72.00 213.63L71.00 213.57L69.00 213.55" fill="#000000" stroke="#000000" stroke-width="4.17" stroke-linejoin="round"/>
<text x="52.95" y="221.9" font-size="21.19" textLength="11.8" lengthAdjust="spacingAndGlyphs" fill="#000" stroke="#000" stroke-width="0.1" stroke-linejoin="round">3</text>
<path d="M80.00 153.00L79.00 152.98L78.00 152.96L77.00 152.81L76.00 152.80L75.00 152.72L74.00 152.70L73.00 152.68L72.00 152.63L71.00 152.57L69.00 152.55" fill="#000000" stroke="#ffffff" stroke-width="5.56" stroke-linejoin="round"/>
<path d="M80.00 153.00L79.00 152.98L78.00 152.96L77.00 152.81L76.00 152.80L75.00 152.72L74.00 152.70L73.00 152.68L72.00 152.63L71.00 152.57L69.00 152.55" fill="#000000" stroke="#000000" stroke-width="4.17" stroke-linejoin="round"/>
<text x="52.03" y="160.9" font-size="21.19" textLength="11.8" lengthAdjust="spacingAndGlyphs" fill="#000" stroke="#000" stroke-width="0.1" stroke-linejoin="round">4</text>
<path d="M80.00 92.00L79.00 91.98L78.00 91.96L77.00 91.81L76.00 91.80L75.00 91.72L74.00 91.70L73.00 91.68L72.00 91.63L71.00 91.57L69.00 91.55" fill="#000000" stroke="#ffffff" stroke-width="5.56" stroke-linejoin="round"/>
<path d="M80.00 92.00L79.00 91.98L78.00 91.96L77.00 91.81L76.00 91.80L75.00 91.72L74.00 91.70L73.00 91.68L72.00 91.63L71.00 91.57L69.00 91.55" fill="#000000" stroke="#000000" stroke-width="4.17" stroke-linejoin="round"/>
<text x="52.15" y="99.9" font-size="21.19" textLength="11.8" lengthAdjust="spacingAndGlyphs" fill="#000" stroke="#000" stroke-width="0.1" stroke-linejoin="round">5</text>
<path d="M80.00 427.00L80.03 426.00L80.07 425.00L80.17 424.00L80.20 423.00L80.27 422.00L80.31 421.00L80.35 420.00L80.40 419.00L80.47 418.00L80.53 417.00L80.59 416.00L80.67 415.00L80.72 414.00L80.76 413.00L80.79 412.00L80.82 411.00L80.84 410.00L80.89 409.00L80.92 408.00L80.95 407.00L80.98 406.00L80.99 405.00L81.00 404.00L81.00 403.00L80.99 402.00L80.98 401.00L80.95 400.00L80.94 399.00L80.90 398.00L80.85 397.00L80.81 396.00L80.77 395.00L80.73 394.00L80.69 393.00L80.63 392.00L80.59 391.00L80.54 390.00L80.47 389.00L80.44 388.00L80.38 387.00L80.27 386.00L80.20 385.00L80.08 384.00L80.04 383.00L79.98 382.00L79.93 381.00L79.85 380.00L79.73 379.00L79.66 378.00L79.58 377.00L79.54 376.00L79.49 375.00L79.42 374.00L79.36 373.00L79.28 372.00L79.25 371.00L79.23 370.00L79.20 369.00L79.18 368.00L79.16 367.00L79.11 366.00L79.07 365.00L79.04 364.00L79.02 363.00L79.01 362.00L79.00 361.00L79.00 360.00L79.00 359.00L79.00 358.00L79.02 357.00L79.02 356.00L79.05 355.00L79.07 354.00L79.09 353.00L79.10 352.00L79.12 351.00L79.14 350.00L79.20 349.00L79.28 348.00L79.31 347.00L79.38 346.00L79.43 345.00L79.47 344.00L79.56 343.00L79.59 342.00L79.62 341.00L79.65 340.00L79.70 339.00L79.77 338.00L79.81 337.00L79.90 336.00L79.95 335.00L80.00 334.00L80.04 333.00L80.14 332.00L80.19 331.00L80.25 330.00L80.32 329.00L80.42 328.00L80.46 327.00L80.51 326.00L80.57 325.00L80.62 324.00L80.70 323.00L80.73 322.00L80.80 321.00L80.82 320.00L80.85 319.00L80.89 318.00L80.92 317.00L80.93 316.00L80.96 315.00L80.97 314.00L80.98 313.00L80.99 312.00L81.00 311.00L81.00 310.00L80.99 309.00L80.98 308.00L80.97 307.00L80.95 306.00L80.93 305.00L80.89 304.00L80.86 303.00L80.84 302.00L80.77 301.00L80.70 300.00L80.60 299.00L80.55 298.00L80.50 297.00L80.46 296.00L80.36 295.00L80.30 294.00L80.27 293.00L80.24 292.00L80.18 291.00L80.11 290.00L80.06 289.00L79.99 288.00L79.96 287.00L79.91 286.00L79.87 285.00L79.81 284.00L79.70 283.00L79.65 282.00L79.61 281.00L79.56 280.00L79.50 279.00L79.47 278.00L79.44 277.00L79.40 276.00L79.37 275.00L79.31 274.00L79.27 273.00L79.24 272.00L79.19 271.00L79.16 270.00L79.14 269.00L79.10 268.00L79.08 267.00L79.07 266.00L79.05 265.00L79.03 264.00L79.02 263.00L79.01 262.00L79.01 261.00L79.00 260.00L79.00 259.00L79.00 258.00L79.02 257.00L79.04 256.00L79.09 255.00L79.11 254.00L79.15 253.00L79.19 252.00L79.21 251.00L79.23 250.00L79.30 249.00L79.35 248.00L79.42 247.00L79.45 246.00L79.53 245.00L79.57 244.00L79.64 243.00L79.75 242.00L79.82 241.00L79.92 240.00L79.98 239.00L80.10 238.00L80.17 237.00L80.29 236.00L80.34 235.00L80.37 234.00L80.46 233.00L80.52 232.00L80.60 231.00L80.67 230.00L80.72 229.00L80.79 228.00L80.84 227.00L80.86 226.00L80.89 225.00L80.91 224.00L80.93 223.00L80.96 222.00L80.98 221.00L80.99 220.00L80.99 219.00L81.00 218.00L81.00 217.00L80.99 216.00L80.98 215.00L80.94 214.00L80.91 213.00L80.87 212.00L80.81 211.00L80.79 210.00L80.74 209.00L80.71 208.00L80.65 207.00L80.62 206.00L80.57 205.00L80.54 204.00L80.46 203.00L80.39 202.00L80.28 201.00L80.20 200.00L80.08 199.00L80.01 198.00L79.90 197.00L79.86 196.00L79.75 195.00L79.66 194.00L79.61 193.00L79.58 192.00L79.52 191.00L79.48 190.00L79.45 189.00L79.38 188.00L79.34 187.00L79.29 186.00L79.24 185.00L79.19 184.00L79.15 183.00L79.12 182.00L79.11 181.00L79.07 180.00L79.05 179.00L79.03 178.00L79.01 177.00L79.00 176.00L79.00 175.00L79.00 174.00L79.01 173.00L79.03 172.00L79.06 171.00L79.08 170.00L79.13 169.00L79.18 168.00L79.23 167.00L79.28 166.00L79.35 165.00L79.40 164.00L79.45 163.00L79.52 162.00L79.58 161.00L79.63 160.00L79.71 159.00L79.76 158.00L79.83 157.00L79.86 156.00L79.93 155.00L80.03 154.00L80.09 153.00L80.19 152.00L80.22 151.00L80.27 150.00L80.39 149.00L80.42 148.00L80.48 147.00L80.51 146.00L80.60 145.00L80.64 144.00L80.73 143.00L80.79 142.00L80.85 141.00L80.87 140.00L80.89 139.00L80.92 138.00L80.95 137.00L80.96 136.00L80.98 135.00L81.00 134.00L81.00 133.00L81.00 132.00L80.98 131.00L80.97 130.00L80.95 129.00L80.92 128.00L80.90 127.00L80.84 126.00L80.77 125.00L80.75 124.00L80.71 123.00L80.66 122.00L80.62 121.00L80.56 120.00L80.46 119.00L80.42 118.00L80.37 117.00L80.31 116.00L80.26 115.00L80.20 114.00L80.14 113.00L80.07 112.00L79.95 111.00L79.90 110.00L79.79 109.00L79.68 108.00L79.57 107.00L79.54 106.00L79.44 105.00L79.36 104.00L79.32 103.00L79.28 102.00L79.26 101.00L79.20 100.00L79.18 99.00L79.15 98.00L79.10 97.00L79.08 96.00L79.06 95.00L79.04 94.00L79.03 93.00L79.01 92.00L79.00 91.00L79.00 90.00L79.01 89.00L79.02 88.00L79.04 87.00L79.07 86.00L79.08 85.00L79.11 84.00L79.13 83.00L79.15 82.00L79.20 81.00L79.24 80.00L79.28 79.00L79.31 78.00L79.35 77.00L79.43 76.00L79.47 75.00L79.54 74.00L79.58 73.00L79.69 72.00L79.77 71.00L79.80 70.00L79.86 69.00L79.93 68.00L79.99 67.00L80.03 66.00L80.14 65.00L80.20 64.00L80.25 63.00L80.35 62.00L80.39 61.00L80.42 60.00L80.52 58.00" fill="none" stroke="#ffffff" stroke-width="5.56" stroke-linecap="square"/>
<path d="M80.00 427.00L80.03 426.00L80.07 425.00L80.17 424.00L80.20 423.00L80.27 422.00L80.31 421.00L80.35 420.00L80.40 419.00L80.47 418.00L80.53 417.00L80.59 416.00L80.67 415.00L80.72 414.00L80.76 413.00L80.79 412.00L80.82 411.00L80.84 410.00L80.89 409.00L80.92 408.00L80.95 407.00L80.98 406.00L80.99 405.00L81.00 404.00L81.00 403.00L80.99 402.00L80.98 401.00L80.95 400.00L80.94 399.00L80.90 398.00L80.85 397.00L80.81 396.00L80.77 395.00L80.73 394.00L80.69 393.00L80.63 392.00L80.59 391.00L80.54 390.00L80.47 389.00L80.44 388.00L80.38 387.00L80.27 386.00L80.20 385.00L80.08 384.00L80.04 383.00L79.98 382.00L79.93 381.00L79.85 380.00L79.73 379.00L79.66 378.00L79.58 377.00L79.54 376.00L79.49 375.00L79.42 374.00L79.36 373.00L79.28 372.00L79.25 371.00L79.23 370.00L79.20 369.00L79.18 368.00L79.16 367.00L79.11 366.00L79.07 365.00L79.04 364.00L79.02 363.00L79.01 362.00L79.00 361.00L79.00 360.00L79.00 359.00L79.00 358.00L79.02 357.00L79.02 356.00L79.05 355.00L79.07 354.00L79.09 353.00L79.10 352.00L79.12 351.00L79.14 350.00L79.20 349.00L79.28 348.00L79.31 347.00L79.38 346.00L79.43 345.00L79.47 344.00L79.56 343.00L79.59 342.00L79.62 341.00L79.65 340.00L79.70 339.00L79.77 338.00L79.81 337.00L79.90 336.00L79.95 335.00L80.00 334.00L80.04 333.00L80.14 332.00L80.19 331.00L80.25 330.00L80.32 329.00L80.42 328.00L80.46 327.00L80.51 326.00L80.57 325.00L80.62 324.00L80.70 323.00L80.73 322.00L80.80 321.00L80.82 320.00L80.85 319.00L80.89 318.00L80.92 317.00L80.93 316.00L80.96 315.00L80.97 314.00L80.98 313.00L80.99 312.00L81.00 311.00L81.00 310.00L80.99 309.00L80.98 308.00L80.97 307.00L80.95 306.00L80.93 305.00L80.89 304.00L80.86 303.00L80.84 302.00L80.77 301.00L80.70 300.00L80.60 299.00L80.55 298.00L80.50 297.00L80.46 296.00L80.36 295.00L80.30 294.00L80.27 293.00L80.24 292.00L80.18 291.00L80.11 290.00L80.06 289.00L79.99 288.00L79.96 287.00L79.91 286.00L79.87 285.00L79.81 284.00L79.70 283.00L79.65 282.00L79.61 281.00L79.56 280.00L79.50 279.00L79.47 278.00L79.44 277.00L79.40 276.00L79.37 275.00L79.31 274.00L79.27 273.00L79.24 272.00L79.19 271.00L79.16 270.00L79.14 269.00L79.10 268.00L79.08 267.00L79.07 266.00L79.05 265.00L79.03 264.00L79.02 263.00L79.01 262.00L79.01 261.00L79.00 260.00L79.00 259.00L79.00 258.00L79.02 257.00L79.04 256.00L79.09 255.00L79.11 254.00L79.15 253.00L79.19 252.00L79.21 251.00L79.23 250.00L79.30 249.00L79.35 248.00L79.42 247.00L79.45 246.00L79.53 245.00L79.57 244.00L79.64 243.00L79.75 242.00L79.82 241.00L79.92 240.00L79.98 239.00L80.10 238.00L80.17 237.00L80.29 236.00L80.34 235.00L80.37 234.00L80.46 233.00L80.52 232.00L80.60 231.00L80.67 230.00L80.72 229.00L80.79 228.00L80.84 227.00L80.86 226.00L80.89 225.00L80.91 224.00L80.93 223.00L80.96 222.00L80.98 221.00L80.99 220.00L80.99 219.00L81.00 218.00L81.00 217.00L80.99 216.00L80.98 215.00L80.94 214.00L80.91 213.00L80.87 212.00L80.81 211.00L80.79 210.00L80.74 209.00L80.71 208.00L80.65 207.00L80.62 206.00L80.57 205.00L80.54 204.00L80.46 203.00L80.39 202.00L80.28 201.00L80.20 200.00L80.08 199.00L80.01 198.00L79.90 197.00L79.86 196.00L79.75 195.00L79.66 194.00L79.61 193.00L79.58 192.00L79.52 191.00L79.48 190.00L79.45 189.00L79.38 188.00L79.34 187.00L79.29 186.00L79.24 185.00L79.19 184.00L79.15 183.00L79.12 182.00L79.11 181.00L79.07 180.00L79.05 179.00L79.03 178.00L79.01 177.00L79.00 176.00L79.00 175.00L79.00 174.00L79.01 173.00L79.03 172.00L79.06 171.00L79.08 170.00L79.13 169.00L79.18 168.00L79.23 167.00L79.28 166.00L79.35 165.00L79.40 164.00L79.45 163.00L79.52 162.00L79.58 161.00L79.63 160.00L79.71 159.00L79.76 158.00L79.83 157.00L79.86 156.00L79.93 155.00L80.03 154.00L80.09 153.00L80.19 152.00L80.22 151.00L80.27 150.00L80.39 149.00L80.42 148.00L80.48 147.00L80.51 146.00L80.60 145.00L80.64 144.00L80.73 143.00L80.79 142.00L80.85 141.00L80.87 140.00L80.89 139.00L80.92 138.00L80.95 137.00L80.96 136.00L80.98 135.00L81.00 134.00L81.00 133.00L81.00 132.00L80.98 131.00L80.97 130.00L80.95 129.00L80.92 128.00L80.90 127.00L80.84 126.00L80.77 125.00L80.75 124.00L80.71 123.00L80.66 122.00L80.62 121.00L80.56 120.00L80.46 119.00L80.42 118.00L80.37 117.00L80.31 116.00L80.26 115.00L80.20 114.00L80.14 113.00L80.07 112.00L79.95 111.00L79.90 110.00L79.79 109.00L79.68 108.00L79.57 107.00L79.54 106.00L79.44 105.00L79.36 104.00L79.32 103.00L79.28 102.00L79.26 101.00L79.20 100.00L79.18 99.00L79.15 98.00L79.10 97.00L79.08 96.00L79.06 95.00L79.04 94.00L79.03 93.00L79.01 92.00L79.00 91.00L79.00 90.00L79.01 89.00L79.02 88.00L79.04 87.00L79.07 86.00L79.08 85.00L79.11 84.00L79.13 83.00L79.15 82.00L79.20 81.00L79.24 80.00L79.28 79.00L79.31 78.00L79.35 77.00L79.43 76.00L79.47 75.00L79.54 74.00L79.58 73.00L79.69 72.00L79.77 71.00L79.80 70.00L79.86 69.00L79.93 68.00L79.99 67.00L80.03 66.00L80.14 65.00L80.20 64.00L80.25 63.00L80.35 62.00L80.39 61.00L80.42 60.00L80.52 58.00" fill="none" stroke="#000000" stroke-width="2.08" stroke-linecap="square"/>
<path d="M576.00 427.00L576.03 426.00L576.07 425.00L576.17 424.00L576.20 423.00L576.27 422.00L576.31 421.00L576.35 420.00L576.40 419.00L576.47 418.00L576.53 417.00L576.59 416.00L576.67 415.00L576.72 414.00L576.76 413.00L576.79 412.00L576.82 411.00L576.84 410.00L576.89 409.00L576.92 408.00L576.95 407.00L576.98 406.00L576.99 405.00L577.00 404.00L577.00 403.00L576.99 402.00L576.98 401.00L576.95 400.00L576.94 399.00L576.90 398.00L576.85 397.00L576.81 396.00L576.77 395.00L576.73 394.00L576.69 393.00L576.63 392.00L576.59 391.00L576.54 390.00L576.47 389.00L576.44 388.00L576.38 387.00L576.27 386.00L576.20 385.00L576.08 384.00L576.04 383.00L575.98 382.00L575.93 381.00L575.85 380.00L575.73 379.00L575.66 378.00L575.58 377.00L575.54 376.00L575.49 375.00L575.42 374.00L575.36 373.00L575.28 372.00L575.25 371.00L575.23 370.00L575.20 369.00L575.18 368.00L575.16 367.00L575.11 366.00L575.07 365.00L575.04 364.00L575.02 363.00L575.01 362.00L575.00 361.00L575.00 360.00L575.00 359.00L575.00 358.00L575.02 357.00L575.02 356.00L575.05 355.00L575.07 354.00L575.09 353.00L575.10 352.00L575.12 351.00L575.14 350.00L575.20 349.00L575.28 348.00L575.31 347.00L575.38 346.00L575.43 345.00L575.47 344.00L575.56 343.00L575.59 342.00L575.62 341.00L575.65 340.00L575.70 339.00L575.77 338.00L575.81 337.00L575.90 336.00L575.95 335.00L576.00 334.00L576.04 333.00L576.14 332.00L576.19 331.00L576.25 330.00L576.32 329.00L576.42 328.00L576.46 327.00L576.51 326.00L576.57 325.00L576.62 324.00L576.70 323.00L576.73 322.00L576.80 321.00L576.82 320.00L576.85 319.00L576.89 318.00L576.92 317.00L576.93 316.00L576.96 315.00L576.97 314.00L576.98 313.00L576.99 312.00L577.00 311.00L577.00 310.00L576.99 309.00L576.98 308.00L576.97 307.00L576.95 306.00L576.93 305.00L576.89 304.00L576.86 303.00L576.84 302.00L576.77 301.00L576.70 300.00L576.60 299.00L576.55 298.00L576.50 297.00L576.46 296.00L576.36 295.00L576.30 294.00L576.27 293.00L576.24 292.00L576.18 291.00L576.11 290.00L576.06 289.00L575.99 288.00L575.96 287.00L575.91 286.00L575.87 285.00L575.81 284.00L575.70 283.00L575.65 282.00L575.61 281.00L575.56 280.00L575.50 279.00L575.47 278.00L575.44 277.00L575.40 276.00L575.37 275.00L575.31 274.00L575.27 273.00L575.24 272.00L575.19 271.00L575.16 270.00L575.14 269.00L575.10 268.00L575.08 267.00L575.07 266.00L575.05 265.00L575.03 264.00L575.02 263.00L575.01 262.00L575.01 261.00L575.00 260.00L575.00 259.00L575.00 258.00L575.02 257.00L575.04 256.00L575.09 255.00L575.11 254.00L575.15 253.00L575.19 252.00L575.21 251.00L575.23 250.00L575.30 249.00L575.35 248.00L575.42 247.00L575.45 246.00L575.53 245.00L575.57 244.00L575.64 243.00L575.75 242.00L575.82 241.00L575.92 240.00L575.98 239.00L576.10 238.00L576.17 237.00L576.29 236.00L576.34 235.00L576.37 234.00L576.46 233.00L576.52 232.00L576.60 231.00L576.67 230.00L576.72 229.00L576.79 228.00L576.84 227.00L576.86 226.00L576.89 225.00L576.91 224.00L576.93 223.00L576.96 222.00L576.98 221.00L576.99 220.00L576.99 219.00L577.00 218.00L577.00 217.00L576.99 216.00L576.98 215.00L576.94 214.00L576.91 213.00L576.87 212.00L576.81 211.00L576.79 210.00L576.74 209.00L576.71 208.00L576.65 207.00L576.62 206.00L576.57 205.00L576.54 204.00L576.46 203.00L576.39 202.00L576.28 201.00L576.20 200.00L576.08 199.00L576.01 198.00L575.90 197.00L575.86 196.00L575.75 195.00L575.66 194.00L575.61 193.00L575.58 192.00L575.52 191.00L575.48 190.00L575.45 189.00L575.38 188.00L575.34 187.00L575.29 186.00L575.24 185.00L575.19 184.00L575.15 183.00L575.12 182.00L575.11 181.00L575.07 180.00L575.05 179.00L575.03 178.00L575.01 177.00L575.00 176.00L575.00 175.00L575.00 174.00L575.01 173.00L575.03 172.00L575.06 171.00L575.08 170.00L575.13 169.00L575.18 168.00L575.23 167.00L575.28 166.00L575.35 165.00L575.40 164.00L575.45 163.00L575.52 162.00L575.58 161.00L575.63 160.00L575.71 159.00L575.76 158.00L575.83 157.00L575.86 156.00L575.93 155.00L576.03 154.00L576.09 153.00L576.19 152.00L576.22 151.00L576.27 150.00L576.39 149.00L576.42 148.00L576.48 147.00L576.51 146.00L576.60 145.00L576.64 144.00L576.73 143.00L576.79 142.00L576.85 141.00L576.87 140.00L576.89 139.00L576.92 138.00L576.95 137.00L576.96 136.00L576.98 135.00L577.00 134.00L577.00 133.00L577.00 132.00L576.98 131.00L576.97 130.00L576.95 129.00L576.92 128.00L576.90 127.00L576.84 126.00L576.77 125.00L576.75 124.00L576.71 123.00L576.66 122.00L576.62 121.00L576.56 120.00L576.46 119.00L576.42 118.00L576.37 117.00L576.31 116.00L576.26 115.00L576.20 114.00L576.14 113.00L576.07 112.00L575.95 111.00L575.90 110.00L575.79 109.00L575.68 108.00L575.57 107.00L575.54 106.00L575.44 105.00L575.36 104.00L575.32 103.00L575.28 102.00L575.26 101.00L575.20 100.00L575.18 99.00L575.15 98.00L575.10 97.00L575.08 96.00L575.06 95.00L575.04 94.00L575.03 93.00L575.01 92.00L575.00 91.00L575.00 90.00L575.01 89.00L575.02 88.00L575.04 87.00L575.07 86.00L575.08 85.00L575.11 84.00L575.13 83.00L575.15 82.00L575.20 81.00L575.24 80.00L575.28 79.00L575.31 78.00L575.35 77.00L575.43 76.00L575.47 75.00L575.54 74.00L575.58 73.00L575.69 72.00L575.77 71.00L575.80 70.00L575.86 69.00L575.93 68.00L575.99 67.00L576.03 66.00L576.14 65.00L576.20 64.00L576.25 63.00L576.35 62.00L576.39 61.00L576.42 60.00L576.52 58.00" fill="none" stroke="#ffffff" stroke-width="5.56" stroke-linecap="square"/>
<path d="M576.00 427.00L576.03 426.00L576.07 425.00L576.17 424.00L576.20 423.00L576.27 422.00L576.31 421.00L576.35 420.00L576.40 419.00L576.47 418.00L576.53 417.00L576.59 416.00L576.67 415.00L576.72 414.00L576.76 413.00L576.79 412.00L576.82 411.00L576.84 410.00L576.89 409.00L576.92 408.00L576.95 407.00L576.98 406.00L576.99 405.00L577.00 404.00L577.00 403.00L576.99 402.00L576.98 401.00L576.95 400.00L576.94 399.00L576.90 398.00L576.85 397.00L576.81 396.00L576.77 395.00L576.73 394.00L576.69 393.00L576.63 392.00L576.59 391.00L576.54 390.00L576.47 389.00L576.44 388.00L576.38 387.00L576.27 386.00L576.20 385.00L576.08 384.00L576.04 383.00L575.98 382.00L575.93 381.00L575.85 380.00L575.73 379.00L575.66 378.00L575.58 377.00L575.54 376.00L575.49 375.00L575.42 374.00L575.36 373.00L575.28 372.00L575.25 371.00L575.23 370.00L575.20 369.00L575.18 368.00L575.16 367.00L575.11 366.00L575.07 365.00L575.04 364.00L575.02 363.00L575.01 362.00L575.00 361.00L575.00 360.00L575.00 359.00L575.00 358.00L575.02 357.00L575.02 356.00L575.05 355.00L575.07 354.00L575.09 353.00L575.10 352.00L575.12 351.00L575.14 350.00L575.20 349.00L575.28 348.00L575.31 347.00L575.38 346.00L575.43 345.00L575.47 344.00L575.56 343.00L575.59 342.00L575.62 341.00L575.65 340.00L575.70 339.00L575.77 338.00L575.81 337.00L575.90 336.00L575.95 335.00L576.00 334.00L576.04 333.00L576.14 332.00L576.19 331.00L576.25 330.00L576.32 329.00L576.42 328.00L576.46 327.00L576.51 326.00L576.57 325.00L576.62 324.00L576.70 323.00L576.73 322.00L576.80 321.00L576.82 320.00L576.85 319.00L576.89 318.00L576.92 317.00L576.93 316.00L576.96 315.00L576.97 314.00L576.98 313.00L576.99 312.00L577.00 311.00L577.00 310.00L576.99 309.00L576.98 308.00L576.97 307.00L576.95 306.00L576.93 305.00L576.89 304.00L576.86 303.00L576.84 302.00L576.77 301.00L576.70 300.00L576.60 299.00L576.55 298.00L576.50 297.00L576.46 296.00L576.36 295.00L576.30 294.00L576.27 293.00L576.24 292.00L576.18 291.00L576.11 290.00L576.06 289.00L575.99 288.00L575.96 287.00L575.91 286.00L575.87 285.00L575.81 284.00L575.70 283.00L575.65 282.00L575.61 281.00L575.56 280.00L575.50 279.00L575.47 278.00L575.44 277.00L575.40 276.00L575.37 275.00L575.31 274.00L575.27 273.00L575.24 272.00L575.19 271.00L575.16 270.00L575.14 269.00L575.10 268.00L575.08 267.00L575.07 266.00L575.05 265.00L575.03 264.00L575.02 263.00L575.01 262.00L575.01 261.00L575.00 260.00L575.00 259.00L575.00 258.00L575.02 257.00L575.04 256.00L575.09 255.00L575.11 254.00L575.15 253.00L575.19 252.00L575.21 251.00L575.23 250.00L575.30 249.00L575.35 248.00L575.42 247.00L575.45 246.00L575.53 245.00L575.57 244.00L575.64 243.00L575.75 242.00L575.82 241.00L575.92 240.00L575.98 239.00L576.10 238.00L576.17 237.00L576.29 236.00L576.34 235.00L576.37 234.00L576.46 233.00L576.52 232.00L576.60 231.00L576.67 230.00L576.72 229.00L576.79 228.00L576.84 227.00L576.86 226.00L576.89 225.00L576.91 224.00L576.93 223.00L576.96 222.00L576.98 221.00L576.99 220.00L576.99 219.00L577.00 218.00L577.00 217.00L576.99 216.00L576.98 215.00L576.94 214.00L576.91 213.00L576.87 212.00L576.81 211.00L576.79 210.00L576.74 209.00L576.71 208.00L576.65 207.00L576.62 206.00L576.57 205.00L576.54 204.00L576.46 203.00L576.39 202.00L576.28 201.00L576.20 200.00L576.08 199.00L576.01 198.00L575.90 197.00L575.86 196.00L575.75 195.00L575.66 194.00L575.61 193.00L575.58 192.00L575.52 191.00L575.48 190.00L575.45 189.00L575.38 188.00L575.34 187.00L575.29 186.00L575.24 185.00L575.19 184.00L575.15 183.00L575.12 182.00L575.11 181.00L575.07 180.00L575.05 179.00L575.03 178.00L575.01 177.00L575.00 176.00L575.00 175.00L575.00 174.00L575.01 173.00L575.03 172.00L575.06 171.00L575.08 170.00L575.13 169.00L575.18 168.00L575.23 167.00L575.28 166.00L575.35 165.00L575.40 164.00L575.45 163.00L575.52 162.00L575.58 161.00L575.63 160.00L575.71 159.00L575.76 158.00L575.83 157.00L575.86 156.00L575.93 155.00L576.03 154.00L576.09 153.00L576.19 152.00L576.22 151.00L576.27 150.00L576.39 149.00L576.42 148.00L576.48 147.00L576.51 146.00L576.60 145.00L576.64 144.00L576.73 143.00L576.79 142.00L576.85 141.00L576.87 140.00L576.89 139.00L576.92 138.00L576.95 137.00L576.96 136.00L576.98 135.00L577.00 134.00L577.00 133.00L577.00 132.00L576.98 131.00L576.97 130.00L576.95 129.00L576.92 128.00L576.90 127.00L576.84 126.00L576.77 125.00L576.75 124.00L576.71 123.00L576.66 122.00L576.62 121.00L576.56 120.00L576.46 119.00L576.42 118.00L576.37 117.00L576.31 116.00L576.26 115.00L576.20 114.00L576.14 113.00L576.07 112.00L575.95 111.00L575.90 110.00L575.79 109.00L575.68 108.00L575.57 107.00L575.54 106.00L575.44 105.00L575.36 104.00L575.32 103.00L575.28 102.00L575.26 101.00L575.20 100.00L575.18 99.00L575.15 98.00L575.10 97.00L575.08 96.00L575.06 95.00L575.04 94.00L575.03 93.00L575.01 92.00L575.00 91.00L575.00 90.00L575.01 89.00L575.02 88.00L575.04 87.00L575.07 86.00L575.08 85.00L575.11 84.00L575.13 83.00L575.15 82.00L575.20 81.00L575.24 80.00L575.28 79.00L575.31 78.00L575.35 77.00L575.43 76.00L575.47 75.00L575.54 74.00L575.58 73.00L575.69 72.00L575.77 71.00L575.80 70.00L575.86 69.00L575.93 68.00L575.99 67.00L576.03 66.00L576.14 65.00L576.20 64.00L576.25 63.00L576.35 62.00L576.39 61.00L576.42 60.00L576.52 58.00" fill="none" stroke="#000000" stroke-width="2.08" stroke-linecap="square"/>
<path d="M80.00 427.00L81.00 427.03L82.00 427.07L83.00 427.17L84.00 427.20L85.00 427.27L86.00 427.31L87.00 427.35L88.00 427.40L89.00 427.47L90.00 427.53L91.00 427.59L92.00 427.67L93.00 427.72L94.00 427.76L95.00 427.79L96.00 427.82L97.00 427.84L98.00 427.89L99.00 427.92L100.00 427.95L101.00 427.98L102.00 427.99L103.00 428.00L104.00 428.00L105.00 427.99L106.00 427.98L107.00 427.95L108.00 427.94L109.00 427.90L110.00 427.85L111.00 427.81L112.00 427.77L113.00 427.73L114.00 427.69L115.00 427.63L116.00 427.59L117.00 427.54L118.00 427.47L119.00 427.44L120.00 427.38L121.00 427.27L122.00 427.20L123.00 427.08L124.00 427.04L125.00 426.98L126.00 426.93L127.00 426.85L128.00 426.73L129.00 426.66L130.00 426.58L131.00 426.54L132.00 426.49L133.00 426.42L134.00 426.36L135.00 426.28L136.00 426.25L137.00 426.23L138.00 426.20L139.00 426.18L140.00 426.16L141.00 426.11L142.00 426.07L143.00 426.04L144.00 426.02L145.00 426.01L146.00 426.00L147.00 426.00L148.00 426.00L149.00 426.00L150.00 426.02L151.00 426.02L152.00 426.05L153.00 426.07L154.00 426.09L155.00 426.10L156.00 426.12L157.00 426.14L158.00 426.20L159.00 426.28L160.00 426.31L161.00 426.38L162.00 426.43L163.00 426.47L164.00 426.56L165.00 426.59L166.00 426.62L167.00 426.65L168.00 426.70L169.00 426.77L170.00 426.81L171.00 426.90L172.00 426.95L173.00 427.00L174.00 427.04L175.00 427.14L176.00 427.19L177.00 427.25L178.00 427.32L179.00 427.42L180.00 427.46L181.00 427.51L182.00 427.57L183.00 427.62L184.00 427.70L185.00 427.73L186.00 427.80L187.00 427.82L188.00 427.85L189.00 427.89L190.00 427.92L191.00 427.93L192.00 427.96L193.00 427.97L194.00 427.98L195.00 427.99L196.00 428.00L197.00 428.00L198.00 427.99L199.00 427.98L200.00 427.97L201.00 427.95L202.00 427.93L203.00 427.89L204.00 427.86L205.00 427.84L206.00 427.77L207.00 427.70L208.00 427.60L209.00 427.55L210.00 427.50L211.00 427.46L212.00 427.36L213.00 427.30L214.00 427.27L215.00 427.24L216.00 427.18L217.00 427.11L218.00 427.06L219.00 426.99L220.00 426.96L221.00 426.91L222.00 426.87L223.00 426.81L224.00 426.70L225.00 426.65L226.00 426.61L227.00 426.56L228.00 426.50L229.00 426.47L230.00 426.44L231.00 426.40L232.00 426.37L233.00 426.31L234.00 426.27L235.00 426.24L236.00 426.19L237.00 426.16L238.00 426.14L239.00 426.10L240.00 426.08L241.00 426.07L242.00 426.05L243.00 426.03L244.00 426.02L245.00 426.01L246.00 426.01L247.00 426.00L248.00 426.00L249.00 426.00L250.00 426.02L251.00 426.04L252.00 426.09L253.00 426.11L254.00 426.15L255.00 426.19L256.00 426.21L257.00 426.23L258.00 426.30L259.00 426.35L260.00 426.42L261.00 426.45L262.00 426.53L263.00 426.57L264.00 426.64L265.00 426.75L266.00 426.82L267.00 426.92L268.00 426.98L269.00 427.10L270.00 427.17L271.00 427.29L272.00 427.34L273.00 427.37L274.00 427.46L275.00 427.52L276.00 427.60L277.00 427.67L278.00 427.72L279.00 427.79L280.00 427.84L281.00 427.86L282.00 427.89L283.00 427.91L284.00 427.93L285.00 427.96L286.00 427.98L287.00 427.99L288.00 427.99L289.00 428.00L290.00 428.00L291.00 427.99L292.00 427.98L293.00 427.94L294.00 427.91L295.00 427.87L296.00 427.81L297.00 427.79L298.00 427.74L299.00 427.71L300.00 427.65L301.00 427.62L302.00 427.57L303.00 427.54L304.00 427.46L305.00 427.39L306.00 427.28L307.00 427.20L308.00 427.08L309.00 427.01L310.00 426.90L311.00 426.86L312.00 426.75L313.00 426.66L314.00 426.61L315.00 426.58L316.00 426.52L317.00 426.48L318.00 426.45L319.00 426.38L320.00 426.34L321.00 426.29L322.00 426.24L323.00 426.19L324.00 426.15L325.00 426.12L326.00 426.11L327.00 426.07L328.00 426.05L329.00 426.03L330.00 426.01L331.00 426.00L332.00 426.00L333.00 426.00L334.00 426.01L335.00 426.03L336.00 426.06L337.00 426.08L338.00 426.13L339.00 426.18L340.00 426.23L341.00 426.28L342.00 426.35L343.00 426.40L344.00 426.45L345.00 426.52L346.00 426.58L347.00 426.63L348.00 426.71L349.00 426.76L350.00 426.83L351.00 426.86L352.00 426.93L353.00 427.03L354.00 427.09L355.00 427.19L356.00 427.22L357.00 427.27L358.00 427.39L359.00 427.42L360.00 427.48L361.00 427.51L362.00 427.60L363.00 427.64L364.00 427.73L365.00 427.79L366.00 427.85L367.00 427.87L368.00 427.89L369.00 427.92L370.00 427.95L371.00 427.96L372.00 427.98L373.00 428.00L374.00 428.00L375.00 428.00L376.00 427.98L377.00 427.97L378.00 427.95L379.00 427.92L380.00 427.90L381.00 427.84L382.00 427.77L383.00 427.75L384.00 427.71L385.00 427.66L386.00 427.62L387.00 427.56L388.00 427.46L389.00 427.42L390.00 427.37L391.00 427.31L392.00 427.26L393.00 427.20L394.00 427.14L395.00 427.07L396.00 426.95L397.00 426.90L398.00 426.79L399.00 426.68L400.00 426.57L401.00 426.54L402.00 426.44L403.00 426.36L404.00 426.32L405.00 426.28L406.00 426.26L407.00 426.20L408.00 426.18L409.00 426.15L410.00 426.10L411.00 426.08L412.00 426.06L413.00 426.04L414.00 426.03L415.00 426.01L416.00 426.00L417.00 426.00L418.00 426.01L419.00 426.02L420.00 426.04L421.00 426.07L422.00 426.08L423.00 426.11L424.00 426.13L425.00 426.15L426.00 426.20L427.00 426.24L428.00 426.28L429.00 426.31L430.00 426.35L431.00 426.43L432.00 426.47L433.00 426.54L434.00 426.58L435.00 426.69L436.00 426.77L437.00 426.80L438.00 426.86L439.00 426.93L440.00 426.99L441.00 427.03L442.00 427.14L443.00 427.20L444.00 427.25L445.00 427.35L446.00 427.39L447.00 427.42L448.00 427.52L449.00 427.56L450.00 427.61L451.00 427.65L452.00 427.71L453.00 427.76L454.00 427.82L455.00 427.84L456.00 427.89L457.00 427.93L458.00 427.95L459.00 427.98L460.00 427.99L461.00 427.99L462.00 428.00L463.00 428.00L464.00 428.00L465.00 427.99L466.00 427.99L467.00 427.97L468.00 427.95L469.00 427.94L470.00 427.91L471.00 427.88L472.00 427.84L473.00 427.81L474.00 427.74L475.00 427.70L476.00 427.67L477.00 427.60L478.00 427.51L479.00 427.45L480.00 427.42L481.00 427.38L482.00 427.28L483.00 427.24L484.00 427.20L485.00 427.16L486.00 427.09L487.00 427.04L488.00 427.01L489.00 426.90L490.00 426.86L491.00 426.83L492.00 426.75L493.00 426.71L494.00 426.67L495.00 426.62L496.00 426.51L497.00 426.42L498.00 426.35L499.00 426.26L500.00 426.19L501.00 426.14L502.00 426.08L503.00 426.05L504.00 426.04L505.00 426.01L506.00 426.00L507.00 426.00L508.00 426.01L509.00 426.02L510.00 426.04L511.00 426.07L512.00 426.08L513.00 426.11L514.00 426.18L515.00 426.22L516.00 426.27L517.00 426.35L518.00 426.40L519.00 426.43L520.00 426.49L521.00 426.58L522.00 426.61L523.00 426.72L524.00 426.83L525.00 426.86L526.00 426.95L527.00 427.01L528.00 427.12L529.00 427.23L530.00 427.27L531.00 427.31L532.00 427.35L533.00 427.39L534.00 427.47L535.00 427.54L536.00 427.57L537.00 427.60L538.00 427.66L539.00 427.70L540.00 427.73L541.00 427.76L542.00 427.80L543.00 427.85L544.00 427.88L545.00 427.91L546.00 427.93L547.00 427.96L548.00 427.98L549.00 427.99L550.00 428.00L551.00 428.00L552.00 428.00L553.00 427.99L554.00 427.97L555.00 427.94L556.00 427.89L557.00 427.85L558.00 427.79L559.00 427.72L560.00 427.67L561.00 427.62L562.00 427.58L563.00 427.51L564.00 427.44L565.00 427.33L566.00 427.27L567.00 427.16L568.00 427.10L569.00 427.05L570.00 426.97L571.00 426.91L572.00 426.84L573.00 426.72L574.00 426.62L576.00 426.54" fill="none" stroke="#ffffff" stroke-width="5.56" stroke-linecap="square"/>
<path d="M80.00 427.00L81.00 427.03L82.00 427.07L83.00 427.17L84.00 427.20L85.00 427.27L86.00 427.31L87.00 427.35L88.00 427.40L89.00 427.47L90.00 427.53L91.00 427.59L92.00 427.67L93.00 427.72L94.00 427.76L95.00 427.79L96.00 427.82L97.00 427.84L98.00 427.89L99.00 427.92L100.00 427.95L101.00 427.98L102.00 427.99L103.00 428.00L104.00 428.00L105.00 427.99L106.00 427.98L107.00 427.95L108.00 427.94L109.00 427.90L110.00 427.85L111.00 427.81L112.00 427.77L113.00 427.73L114.00 427.69L115.00 427.63L116.00 427.59L117.00 427.54L118.00 427.47L119.00 427.44L120.00 427.38L121.00 427.27L122.00 427.20L123.00 427.08L124.00 427.04L125.00 426.98L126.00 426.93L127.00 426.85L128.00 426.73L129.00 426.66L130.00 426.58L131.00 426.54L132.00 426.49L133.00 426.42L134.00 426.36L135.00 426.28L136.00 426.25L137.00 426.23L138.00 426.20L139.00 426.18L140.00 426.16L141.00 426.11L142.00 426.07L143.00 426.04L144.00 426.02L145.00 426.01L146.00 426.00L147.00 426.00L148.00 426.00L149.00 426.00L150.00 426.02L151.00 426.02L152.00 426.05L153.00 426.07L154.00 426.09L155.00 426.10L156.00 426.12L157.00 426.14L158.00 426.20L159.00 426.28L160.00 426.31L161.00 426.38L162.00 426.43L163.00 426.47L164.00 426.56L165.00 426.59L166.00 426.62L167.00 426.65L168.00 426.70L169.00 426.77L170.00 426.81L171.00 426.90L172.00 426.95L173.00 427.00L174.00 427.04L175.00 427.14L176.00 427.19L177.00 427.25L178.00 427.32L179.00 427.42L180.00 427.46L181.00 427.51L182.00 427.57L183.00 427.62L184.00 427.70L185.00 427.73L186.00 427.80L187.00 427.82L188.00 427.85L189.00 427.89L190.00 427.92L191.00 427.93L192.00 427.96L193.00 427.97L194.00 427.98L195.00 427.99L196.00 428.00L197.00 428.00L198.00 427.99L199.00 427.98L200.00 427.97L201.00 427.95L202.00 427.93L203.00 427.89L204.00 427.86L205.00 427.84L206.00 427.77L207.00 427.70L208.00 427.60L209.00 427.55L210.00 427.50L211.00 427.46L212.00 427.36L213.00 427.30L214.00 427.27L215.00 427.24L216.00 427.18L217.00 427.11L218.00 427.06L219.00 426.99L220.00 426.96L221.00 426.91L222.00 426.87L223.00 426.81L224.00 426.70L225.00 426.65L226.00 426.61L227.00 426.56L228.00 426.50L229.00 426.47L230.00 426.44L231.00 426.40L232.00 426.37L233.00 426.31L234.00 426.27L235.00 426.24L236.00 426.19L237.00 426.16L238.00 426.14L239.00 426.10L240.00 426.08L241.00 426.07L242.00 426.05L243.00 426.03L244.00 426.02L245.00 426.01L246.00 426.01L247.00 426.00L248.00 426.00L249.00 426.00L250.00 426.02L251.00 426.04L252.00 426.09L253.00 426.11L254.00 426.15L255.00 426.19L256.00 426.21L257.00 426.23L258.00 426.30L259.00 426.35L260.00 426.42L261.00 426.45L262.00 426.53L263.00 426.57L264.00 426.64L265.00 426.75L266.00 426.82L267.00 426.92L268.00 426.98L269.00 427.10L270.00 427.17L271.00 427.29L272.00 427.34L273.00 427.37L274.00 427.46L275.00 427.52L276.00 427.60L277.00 427.67L278.00 427.72L279.00 427.79L280.00 427.84L281.00 427.86L282.00 427.89L283.00 427.91L284.00 427.93L285.00 427.96L286.00 427.98L287.00 427.99L288.00 427.99L289.00 428.00L290.00 428.00L291.00 427.99L292.00 427.98L293.00 427.94L294.00 427.91L295.00 427.87L296.00 427.81L297.00 427.79L298.00 427.74L299.00 427.71L300.00 427.65L301.00 427.62L302.00 427.57L303.00 427.54L304.00 427.46L305.00 427.39L306.00 427.28L307.00 427.20L308.00 427.08L309.00 427.01L310.00 426.90L311.00 426.86L312.00 426.75L313.00 426.66L314.00 426.61L315.00 426.58L316.00 426.52L317.00 426.48L318.00 426.45L319.00 426.38L320.00 426.34L321.00 426.29L322.00 426.24L323.00 426.19L324.00 426.15L325.00 426.12L326.00 426.11L327.00 426.07L328.00 426.05L329.00 426.03L330.00 426.01L331.00 426.00L332.00 426.00L333.00 426.00L334.00 426.01L335.00 426.03L336.00 426.06L337.00 426.08L338.00 426.13L339.00 426.18L340.00 426.23L341.00 426.28L342.00 426.35L343.00 426.40L344.00 426.45L345.00 426.52L346.00 426.58L347.00 426.63L348.00 426.71L349.00 426.76L350.00 426.83L351.00 426.86L352.00 426.93L353.00 427.03L354.00 427.09L355.00 427.19L356.00 427.22L357.00 427.27L358.00 427.39L359.00 427.42L360.00 427.48L361.00 427.51L362.00 427.60L363.00 427.64L364.00 427.73L365.00 427.79L366.00 427.85L367.00 427.87L368.00 427.89L369.00 427.92L370.00 427.95L371.00 427.96L372.00 427.98L373.00 428.00L374.00 428.00L375.00 428.00L376.00 427.98L377.00 427.97L378.00 427.95L379.00 427.92L380.00 427.90L381.00 427.84L382.00 427.77L383.00 427.75L384.00 427.71L385.00 427.66L386.00 427.62L387.00 427.56L388.00 427.46L389.00 427.42L390.00 427.37L391.00 427.31L392.00 427.26L393.00 427.20L394.00 427.14L395.00 427.07L396.00 426.95L397.00 426.90L398.00 426.79L399.00 426.68L400.00 426.57L401.00 426.54L402.00 426.44L403.00 426.36L404.00 426.32L405.00 426.28L406.00 426.26L407.00 426.20L408.00 426.18L409.00 426.15L410.00 426.10L411.00 426.08L412.00 426.06L413.00 426.04L414.00 426.03L415.00 426.01L416.00 426.00L417.00 426.00L418.00 426.01L419.00 426.02L420.00 426.04L421.00 426.07L422.00 426.08L423.00 426.11L424.00 426.13L425.00 426.15L426.00 426.20L427.00 426.24L428.00 426.28L429.00 426.31L430.00 426.35L431.00 426.43L432.00 426.47L433.00 426.54L434.00 426.58L435.00 426.69L436.00 426.77L437.00 426.80L438.00 426.86L439.00 426.93L440.00 426.99L441.00 427.03L442.00 427.14L443.00 427.20L444.00 427.25L445.00 427.35L446.00 427.39L447.00 427.42L448.00 427.52L449.00 427.56L450.00 427.61L451.00 427.65L452.00 427.71L453.00 427.76L454.00 427.82L455.00 427.84L456.00 427.89L457.00 427.93L458.00 427.95L459.00 427.98L460.00 427.99L461.00 427.99L462.00 428.00L463.00 428.00L464.00 428.00L465.00 427.99L466.00 427.99L467.00 427.97L468.00 427.95L469.00 427.94L470.00 427.91L471.00 427.88L472.00 427.84L473.00 427.81L474.00 427.74L475.00 427.70L476.00 427.67L477.00 427.60L478.00 427.51L479.00 427.45L480.00 427.42L481.00 427.38L482.00 427.28L483.00 427.24L484.00 427.20L485.00 427.16L486.00 427.09L487.00 427.04L488.00 427.01L489.00 426.90L490.00 426.86L491.00 426.83L492.00 426.75L493.00 426.71L494.00 426.67L495.00 426.62L496.00 426.51L497.00 426.42L498.00 426.35L499.00 426.26L500.00 426.19L501.00 426.14L502.00 426.08L503.00 426.05L504.00 426.04L505.00 426.01L506.00 426.00L507.00 426.00L508.00 426.01L509.00 426.02L510.00 426.04L511.00 426.07L512.00 426.08L513.00 426.11L514.00 426.18L515.00 426.22L516.00 426.27L517.00 426.35L518.00 426.40L519.00 426.43L520.00 426.49L521.00 426.58L522.00 426.61L523.00 426.72L524.00 426.83L525.00 426.86L526.00 426.95L527.00 427.01L528.00 427.12L529.00 427.23L530.00 427.27L531.00 427.31L532.00 427.35L533.00 427.39L534.00 427.47L535.00 427.54L536.00 427.57L537.00 427.60L538.00 427.66L539.00 427.70L540.00 427.73L541.00 427.76L542.00 427.80L543.00 427.85L544.00 427.88L545.00 427.91L546.00 427.93L547.00 427.96L548.00 427.98L549.00 427.99L550.00 428.00L551.00 428.00L552.00 428.00L553.00 427.99L554.00 427.97L555.00 427.94L556.00 427.89L557.00 427.85L558.00 427.79L559.00 427.72L560.00 427.67L561.00 427.62L562.00 427.58L563.00 427.51L564.00 427.44L565.00 427.33L566.00 427.27L567.00 427.16L568.00 427.10L569.00 427.05L570.00 426.97L571.00 426.91L572.00 426.84L573.00 426.72L574.00 426.62L576.00 426.54" fill="none" stroke="#000000" stroke-width="2.08" stroke-linecap="square"/>
<path d="M80.00 58.00L81.00 58.03L82.00 58.07L83.00 58.17L84.00 58.20L85.00 58.27L86.00 58.31L87.00 58.35L88.00 58.40L89.00 58.47L90.00 58.53L91.00 58.59L92.00 58.67L93.00 58.72L94.00 58.76L95.00 58.79L96.00 58.82L97.00 58.84L98.00 58.89L99.00 58.92L100.00 58.95L101.00 58.98L102.00 58.99L103.00 59.00L104.00 59.00L105.00 58.99L106.00 58.98L107.00 58.95L108.00 58.94L109.00 58.90L110.00 58.85L111.00 58.81L112.00 58.77L113.00 58.73L114.00 58.69L115.00 58.63L116.00 58.59L117.00 58.54L118.00 58.47L119.00 58.44L120.00 58.38L121.00 58.27L122.00 58.20L123.00 58.08L124.00 58.04L125.00 57.98L126.00 57.93L127.00 57.85L128.00 57.73L129.00 57.66L130.00 57.58L131.00 57.54L132.00 57.49L133.00 57.42L134.00 57.36L135.00 57.28L136.00 57.25L137.00 57.23L138.00 57.20L139.00 57.18L140.00 57.16L141.00 57.11L142.00 57.07L143.00 57.04L144.00 57.02L145.00 57.01L146.00 57.00L147.00 57.00L148.00 57.00L149.00 57.00L150.00 57.02L151.00 57.02L152.00 57.05L153.00 57.07L154.00 57.09L155.00 57.10L156.00 57.12L157.00 57.14L158.00 57.20L159.00 57.28L160.00 57.31L161.00 57.38L162.00 57.43L163.00 57.47L164.00 57.56L165.00 57.59L166.00 57.62L167.00 57.65L168.00 57.70L169.00 57.77L170.00 57.81L171.00 57.90L172.00 57.95L173.00 58.00L174.00 58.04L175.00 58.14L176.00 58.19L177.00 58.25L178.00 58.32L179.00 58.42L180.00 58.46L181.00 58.51L182.00 58.57L183.00 58.62L184.00 58.70L185.00 58.73L186.00 58.80L187.00 58.82L188.00 58.85L189.00 58.89L190.00 58.92L191.00 58.93L192.00 58.96L193.00 58.97L194.00 58.98L195.00 58.99L196.00 59.00L197.00 59.00L198.00 58.99L199.00 58.98L200.00 58.97L201.00 58.95L202.00 58.93L203.00 58.89L204.00 58.86L205.00 58.84L206.00 58.77L207.00 58.70L208.00 58.60L209.00 58.55L210.00 58.50L211.00 58.46L212.00 58.36L213.00 58.30L214.00 58.27L215.00 58.24L216.00 58.18L217.00 58.11L218.00 58.06L219.00 57.99L220.00 57.96L221.00 57.91L222.00 57.87L223.00 57.81L224.00 57.70L225.00 57.65L226.00 57.61L227.00 57.56L228.00 57.50L229.00 57.47L230.00 57.44L231.00 57.40L232.00 57.37L233.00 57.31L234.00 57.27L235.00 57.24L236.00 57.19L237.00 57.16L238.00 57.14L239.00 57.10L240.00 57.08L241.00 57.07L242.00 57.05L243.00 57.03L244.00 57.02L245.00 57.01L246.00 57.01L247.00 57.00L248.00 57.00L249.00 57.00L250.00 57.02L251.00 57.04L252.00 57.09L253.00 57.11L254.00 57.15L255.00 57.19L256.00 57.21L257.00 57.23L258.00 57.30L259.00 57.35L260.00 57.42L261.00 57.45L262.00 57.53L263.00 57.57L264.00 57.64L265.00 57.75L266.00 57.82L267.00 57.92L268.00 57.98L269.00 58.10L270.00 58.17L271.00 58.29L272.00 58.34L273.00 58.37L274.00 58.46L275.00 58.52L276.00 58.60L277.00 58.67L278.00 58.72L279.00 58.79L280.00 58.84L281.00 58.86L282.00 58.89L283.00 58.91L284.00 58.93L285.00 58.96L286.00 58.98L287.00 58.99L288.00 58.99L289.00 59.00L290.00 59.00L291.00 58.99L292.00 58.98L293.00 58.94L294.00 58.91L295.00 58.87L296.00 58.81L297.00 58.79L298.00 58.74L299.00 58.71L300.00 58.65L301.00 58.62L302.00 58.57L303.00 58.54L304.00 58.46L305.00 58.39L306.00 58.28L307.00 58.20L308.00 58.08L309.00 58.01L310.00 57.90L311.00 57.86L312.00 57.75L313.00 57.66L314.00 57.61L315.00 57.58L316.00 57.52L317.00 57.48L318.00 57.45L319.00 57.38L320.00 57.34L321.00 57.29L322.00 57.24L323.00 57.19L324.00 57.15L325.00 57.12L326.00 57.11L327.00 57.07L328.00 57.05L329.00 57.03L330.00 57.01L331.00 57.00L332.00 57.00L333.00 57.00L334.00 57.01L335.00 57.03L336.00 57.06L337.00 57.08L338.00 57.13L339.00 57.18L340.00 57.23L341.00 57.28L342.00 57.35L343.00 57.40L344.00 57.45L345.00 57.52L346.00 57.58L347.00 57.63L348.00 57.71L349.00 57.76L350.00 57.83L351.00 57.86L352.00 57.93L353.00 58.03L354.00 58.09L355.00 58.19L356.00 58.22L357.00 58.27L358.00 58.39L359.00 58.42L360.00 58.48L361.00 58.51L362.00 58.60L363.00 58.64L364.00 58.73L365.00 58.79L366.00 58.85L367.00 58.87L368.00 58.89L369.00 58.92L370.00 58.95L371.00 58.96L372.00 58.98L373.00 59.00L374.00 59.00L375.00 59.00L376.00 58.98L377.00 58.97L378.00 58.95L379.00 58.92L380.00 58.90L381.00 58.84L382.00 58.77L383.00 58.75L384.00 58.71L385.00 58.66L386.00 58.62L387.00 58.56L388.00 58.46L389.00 58.42L390.00 58.37L391.00 58.31L392.00 58.26L393.00 58.20L394.00 58.14L395.00 58.07L396.00 57.95L397.00 57.90L398.00 57.79L399.00 57.68L400.00 57.57L401.00 57.54L402.00 57.44L403.00 57.36L404.00 57.32L405.00 57.28L406.00 57.26L407.00 57.20L408.00 57.18L409.00 57.15L410.00 57.10L411.00 57.08L412.00 57.06L413.00 57.04L414.00 57.03L415.00 57.01L416.00 57.00L417.00 57.00L418.00 57.01L419.00 57.02L420.00 57.04L421.00 57.07L422.00 57.08L423.00 57.11L424.00 57.13L425.00 57.15L426.00 57.20L427.00 57.24L428.00 57.28L429.00 57.31L430.00 57.35L431.00 57.43L432.00 57.47L433.00 57.54L434.00 57.58L435.00 57.69L436.00 57.77L437.00 57.80L438.00 57.86L439.00 57.93L440.00 57.99L441.00 58.03L442.00 58.14L443.00 58.20L444.00 58.25L445.00 58.35L446.00 58.39L447.00 58.42L448.00 58.52L449.00 58.56L450.00 58.61L451.00 58.65L452.00 58.71L453.00 58.76L454.00 58.82L455.00 58.84L456.00 58.89L457.00 58.93L458.00 58.95L459.00 58.98L460.00 58.99L461.00 58.99L462.00 59.00L463.00 59.00L464.00 59.00L465.00 58.99L466.00 58.99L467.00 58.97L468.00 58.95L469.00 58.94L470.00 58.91L471.00 58.88L472.00 58.84L473.00 58.81L474.00 58.74L475.00 58.70L476.00 58.67L477.00 58.60L478.00 58.51L479.00 58.45L480.00 58.42L481.00 58.38L482.00 58.28L483.00 58.24L484.00 58.20L485.00 58.16L486.00 58.09L487.00 58.04L488.00 58.01L489.00 57.90L490.00 57.86L491.00 57.83L492.00 57.75L493.00 57.71L494.00 57.67L495.00 57.62L496.00 57.51L497.00 57.42L498.00 57.35L499.00 57.26L500.00 57.19L501.00 57.14L502.00 57.08L503.00 57.05L504.00 57.04L505.00 57.01L506.00 57.00L507.00 57.00L508.00 57.01L509.00 57.02L510.00 57.04L511.00 57.07L512.00 57.08L513.00 57.11L514.00 57.18L515.00 57.22L516.00 57.27L517.00 57.35L518.00 57.40L519.00 57.43L520.00 57.49L521.00 57.58L522.00 57.61L523.00 57.72L524.00 57.83L525.00 57.86L526.00 57.95L527.00 58.01L528.00 58.12L529.00 58.23L530.00 58.27L531.00 58.31L532.00 58.35L533.00 58.39L534.00 58.47L535.00 58.54L536.00 58.57L537.00 58.60L538.00 58.66L539.00 58.70L540.00 58.73L541.00 58.76L542.00 58.80L543.00 58.85L544.00 58.88L545.00 58.91L546.00 58.93L547.00 58.96L548.00 58.98L549.00 58.99L550.00 59.00L551.00 59.00L552.00 59.00L553.00 58.99L554.00 58.97L555.00 58.94L556.00 58.89L557.00 58.85L558.00 58.79L559.00 58.72L560.00 58.67L561.00 58.62L562.00 58.58L563.00 58.51L564.00 58.44L565.00 58.33L566.00 58.27L567.00 58.16L568.00 58.10L569.00 58.05L570.00 57.97L571.00 57.91L572.00 57.84L573.00 57.72L574.00 57.62L576.00 57.54" fill="none" stroke="#ffffff" stroke-width="5.56" stroke-linecap="square"/>
<path d="M80.00 58.00L81.00 58.03L82.00 58.07L83.00 58.17L84.00 58.20L85.00 58.27L86.00 58.31L87.00 58.35L88.00 58.40L89.00 58.47L90.00 58.53L91.00 58.59L92.00 58.67L93.00 58.72L94.00 58.76L95.00 58.79L96.00 58.82L97.00 58.84L98.00 58.89L99.00 58.92L100.00 58.95L101.00 58.98L102.00 58.99L103.00 59.00L104.00 59.00L105.00 58.99L106.00 58.98L107.00 58.95L108.00 58.94L109.00 58.90L110.00 58.85L111.00 58.81L112.00 58.77L113.00 58.73L114.00 58.69L115.00 58.63L116.00 58.59L117.00 58.54L118.00 58.47L119.00 58.44L120.00 58.38L121.00 58.27L122.00 58.20L123.00 58.08L124.00 58.04L125.00 57.98L126.00 57.93L127.00 57.85L128.00 57.73L129.00 57.66L130.00 57.58L131.00 57.54L132.00 57.49L133.00 57.42L134.00 57.36L135.00 57.28L136.00 57.25L137.00 57.23L138.00 57.20L139.00 57.18L140.00 57.16L141.00 57.11L142.00 57.07L143.00 57.04L144.00 57.02L145.00 57.01L146.00 57.00L147.00 57.00L148.00 57.00L149.00 57.00L150.00 57.02L151.00 57.02L152.00 57.05L153.00 57.07L154.00 57.09L155.00 57.10L156.00 57.12L157.00 57.14L158.00 57.20L159.00 57.28L160.00 57.31L161.00 57.38L162.00 57.43L163.00 57.47L164.00 57.56L165.00 57.59L166.00 57.62L167.00 57.65L168.00 57.70L169.00 57.77L170.00 57.81L171.00 57.90L172.00 57.95L173.00 58.00L174.00 58.04L175.00 58.14L176.00 58.19L177.00 58.25L178.00 58.32L179.00 58.42L180.00 58.46L181.00 58.51L182.00 58.57L183.00 58.62L184.00 58.70L185.00 58.73L186.00 58.80L187.00 58.82L188.00 58.85L189.00 58.89L190.00 58.92L191.00 58.93L192.00 58.96L193.00 58.97L194.00 58.98L195.00 58.99L196.00 59.00L197.00 59.00L198.00 58.99L199.00 58.98L200.00 58.97L201.00 58.95L202.00 58.93L203.00 58.89L204.00 58.86L205.00 58.84L206.00 58.77L207.00 58.70L208.00 58.60L209.00 58.55L210.00 58.50L211.00 58.46L212.00 58.36L213.00 58.30L214.00 58.27L215.00 58.24L216.00 58.18L217.00 58.11L218.00 58.06L219.00 57.99L220.00 57.96L221.00 57.91L222.00 57.87L223.00 57.81L224.00 57.70L225.00 57.65L226.00 57.61L227.00 57.56L228.00 57.50L229.00 57.47L230.00 57.44L231.00 57.40L232.00 57.37L233.00 57.31L234.00 57.27L235.00 57.24L236.00 57.19L237.00 57.16L238.00 57.14L239.00 57.10L240.00 57.08L241.00 57.07L242.00 57.05L243.00 57.03L244.00 57.02L245.00 57.01L246.00 57.01L247.00 57.00L248.00 57.00L249.00 57.00L250.00 57.02L251.00 57.04L252.00 57.09L253.00 57.11L254.00 57.15L255.00 57.19L256.00 57.21L257.00 57.23L258.00 57.30L259.00 57.35L260.00 57.42L261.00 57.45L262.00 57.53L263.00 57.57L264.00 57.64L265.00 57.75L266.00 57.82L267.00 57.92L268.00 57.98L269.00 58.10L270.00 58.17L271.00 58.29L272.00 58.34L273.00 58.37L274.00 58.46L275.00 58.52L276.00 58.60L277.00 58.67L278.00 58.72L279.00 58.79L280.00 58.84L281.00 58.86L282.00 58.89L283.00 58.91L284.00 58.93L285.00 58.96L286.00 58.98L287.00 58.99L288.00 58.99L289.00 59.00L290.00 59.00L291.00 58.99L292.00 58.98L293.00 58.94L294.00 58.91L295.00 58.87L296.00 58.81L297.00 58.79L298.00 58.74L299.00 58.71L300.00 58.65L301.00 58.62L302.00 58.57L303.00 58.54L304.00 58.46L305.00 58.39L306.00 58.28L307.00 58.20L308.00 58.08L309.00 58.01L310.00 57.90L311.00 57.86L312.00 57.75L313.00 57.66L314.00 57.61L315.00 57.58L316.00 57.52L317.00 57.48L318.00 57.45L319.00 57.38L320.00 57.34L321.00 57.29L322.00 57.24L323.00 57.19L324.00 57.15L325.00 57.12L326.00 57.11L327.00 57.07L328.00 57.05L329.00 57.03L330.00 57.01L331.00 57.00L332.00 57.00L333.00 57.00L334.00 57.01L335.00 57.03L336.00 57.06L337.00 57.08L338.00 57.13L339.00 57.18L340.00 57.23L341.00 57.28L342.00 57.35L343.00 57.40L344.00 57.45L345.00 57.52L346.00 57.58L347.00 57.63L348.00 57.71L349.00 57.76L350.00 57.83L351.00 57.86L352.00 57.93L353.00 58.03L354.00 58.09L355.00 58.19L356.00 58.22L357.00 58.27L358.00 58.39L359.00 58.42L360.00 58.48L361.00 58.51L362.00 58.60L363.00 58.64L364.00 58.73L365.00 58.79L366.00 58.85L367.00 58.87L368.00 58.89L369.00 58.92L370.00 58.95L371.00 58.96L372.00 58.98L373.00 59.00L374.00 59.00L375.00 59.00L376.00 58.98L377.00 58.97L378.00 58.95L379.00 58.92L380.00 58.90L381.00 58.84L382.00 58.77L383.00 58.75L384.00 58.71L385.00 58.66L386.00 58.62L387.00 58.56L388.00 58.46L389.00 58.42L390.00 58.37L391.00 58.31L392.00 58.26L393.00 58.20L394.00 58.14L395.00 58.07L396.00 57.95L397.00 57.90L398.00 57.79L399.00 57.68L400.00 57.57L401.00 57.54L402.00 57.44L403.00 57.36L404.00 57.32L405.00 57.28L406.00 57.26L407.00 57.20L408.00 57.18L409.00 57.15L410.00 57.10L411.00 57.08L412.00 57.06L413.00 57.04L414.00 57.03L415.00 57.01L416.00 57.00L417.00 57.00L418.00 57.01L419.00 57.02L420.00 57.04L421.00 57.07L422.00 57.08L423.00 57.11L424.00 57.13L425.00 57.15L426.00 57.20L427.00 57.24L428.00 57.28L429.00 57.31L430.00 57.35L431.00 57.43L432.00 57.47L433.00 57.54L434.00 57.58L435.00 57.69L436.00 57.77L437.00 57.80L438.00 57.86L439.00 57.93L440.00 57.99L441.00 58.03L442.00 58.14L443.00 58.20L444.00 58.25L445.00 58.35L446.00 58.39L447.00 58.42L448.00 58.52L449.00 58.56L450.00 58.61L451.00 58.65L452.00 58.71L453.00 58.76L454.00 58.82L455.00 58.84L456.00 58.89L457.00 58.93L458.00 58.95L459.00 58.98L460.00 58.99L461.00 58.99L462.00 59.00L463.00 59.00L464.00 59.00L465.00 58.99L466.00 58.99L467.00 58.97L468.00 58.95L469.00 58.94L470.00 58.91L471.00 58.88L472.00 58.84L473.00 58.81L474.00 58.74L475.00 58.70L476.00 58.67L477.00 58.60L478.00 58.51L479.00 58.45L480.00 58.42L481.00 58.38L482.00 58.28L483.00 58.24L484.00 58.20L485.00 58.16L486.00 58.09L487.00 58.04L488.00 58.01L489.00 57.90L490.00 57.86L491.00 57.83L492.00 57.75L493.00 57.71L494.00 57.67L495.00 57.62L496.00 57.51L497.00 57.42L498.00 57.35L499.00 57.26L500.00 57.19L501.00 57.14L502.00 57.08L503.00 57.05L504.00 57.04L505.00 57.01L506.00 57.00L507.00 57.00L508.00 57.01L509.00 57.02L510.00 57.04L511.00 57.07L512.00 57.08L513.00 57.11L514.00 57.18L515.00 57.22L516.00 57.27L517.00 57.35L518.00 57.40L519.00 57.43L520.00 57.49L521.00 57.58L522.00 57.61L523.00 57.72L524.00 57.83L525.00 57.86L526.00 57.95L527.00 58.01L528.00 58.12L529.00 58.23L530.00 58.27L531.00 58.31L532.00 58.35L533.00 58.39L534.00 58.47L535.00 58.54L536.00 58.57L537.00 58.60L538.00 58.66L539.00 58.70L540.00 58.73L541.00 58.76L542.00 58.80L543.00 58.85L544.00 58.88L545.00 58.91L546.00 58.93L547.00 58.96L548.00 58.98L549.00 58.99L550.00 59.00L551.00 59.00L552.00 59.00L553.00 58.99L554.00 58.97L555.00 58.94L556.00 58.89L557.00 58.85L558.00 58.79L559.00 58.72L560.00 58.67L561.00 58.62L562.00 58.58L563.00 58.51L564.00 58.44L565.00 58.33L566.00 58.27L567.00 58.16L568.00 58.10L569.00 58.05L570.00 57.97L571.00 57.91L572.00 57.84L573.00 57.72L574.00 57.62L576.00 57.54" fill="none" stroke="#000000" stroke-width="2.08" stroke-linecap="square"/>
<path d="M94.00 417.00L95.00 417.03L96.00 417.07L97.00 417.17L98.00 417.20L99.00 417.27L100.00 417.31L101.00 417.35L102.00 417.40L103.00 417.47L104.00 417.53L105.00 417.59L106.00 417.67L107.00 417.72L108.00 417.76L109.00 417.79L110.00 417.82L111.00 417.84L112.00 417.89L113.00 417.92L114.00 417.95L115.00 417.98L116.00 417.99L117.00 418.00L118.00 418.00L119.00 417.99L120.00 417.98L121.00 417.95L122.00 417.94L123.00 417.90L124.00 417.85L125.00 417.81L126.00 417.77L127.00 417.73L128.00 417.69L129.00 417.63L130.00 417.59L131.00 417.54L132.00 417.47L133.00 417.44L134.00 417.38L135.00 417.27L136.00 417.20L137.00 417.08L138.00 417.04L139.00 416.98L140.00 416.93L141.00 416.85L142.00 416.73L143.00 416.66L144.00 416.58L145.00 416.54L146.00 416.49L147.00 416.42L148.00 416.36L149.00 416.28L150.00 416.25L151.00 416.23L152.00 416.20L153.00 416.18L154.00 416.16L155.00 416.11L156.00 416.07L157.00 416.04L158.00 416.02L159.00 416.01L160.00 416.00L161.00 416.00L162.00 416.00L163.00 416.00L164.00 416.02L165.00 416.02L166.00 416.05L167.00 416.07L168.00 416.09L169.00 416.10L170.00 416.12L171.00 416.14L172.00 416.20L173.00 416.28L174.00 416.31L175.00 416.38L176.00 416.43L177.00 416.47L178.00 416.56L179.00 416.59L180.00 416.62L181.00 416.65L182.00 416.70L183.00 416.77L184.00 416.81L185.00 416.90L186.00 416.95L187.00 417.00L188.00 417.04L189.00 417.14L190.00 417.19L191.00 417.25L192.00 417.32L193.00 417.42L194.00 417.46L195.00 417.51L196.00 417.57L197.00 417.62L198.00 417.70L199.00 417.73L200.00 417.80L201.00 417.82L202.00 417.85L203.00 417.89L204.00 417.92L205.00 417.93L206.00 417.96L207.00 417.97L208.00 417.98L209.00 417.99L210.00 418.00L211.00 418.00L212.00 417.99L213.00 417.98L214.00 417.97L215.00 417.95L216.00 417.93L217.00 417.89L218.00 417.86L219.00 417.84L220.00 417.77L221.00 417.70L222.00 417.60L223.00 417.55L224.00 417.50L225.00 417.46L226.00 417.36L227.00 417.30L228.00 417.27L229.00 417.24L230.00 417.18L231.00 417.11L232.00 417.06L233.00 416.99L234.00 416.96L235.00 416.91L236.00 416.87L237.00 416.81L238.00 416.70L239.00 416.65L240.00 416.61L242.00 416.56L243.70 416.32L245.17 415.37L245.42 414.47L245.41 413.95L245.37 413.00L245.31 412.00L245.27 411.00L245.24 410.00L245.19 409.00L245.16 408.00L245.14 407.00L245.10 406.00L245.08 405.00L245.07 404.00L245.05 403.00L245.03 402.00L245.02 401.00L245.01 400.00L245.01 399.00L245.00 398.00L245.00 397.00L245.00 396.00L245.02 395.00L245.04 394.00L245.09 393.00L245.11 392.00L245.15 391.00L245.19 390.00L245.21 389.00L245.23 388.00L245.30 387.00L245.35 386.00L245.42 385.00L245.45 384.00L245.53 383.00L245.57 382.00L245.64 381.00L245.75 380.00L245.82 379.00L245.92 378.00L245.98 377.00L246.10 376.00L246.17 375.00L246.29 374.00L246.34 373.00L246.37 372.00L246.46 371.00L246.52 370.00L246.60 369.00L246.67 368.00L246.72 367.00L246.79 366.00L246.84 365.00L246.86 364.00L246.89 363.00L246.91 362.00L246.93 361.00L246.96 360.00L246.98 359.00L246.99 358.00L246.99 357.00L247.00 356.00L247.00 355.00L246.99 354.00L246.98 353.00L246.94 352.00L246.91 351.00L246.87 350.00L246.81 349.00L246.79 348.00L246.74 347.00L246.71 346.00L246.65 345.00L246.62 344.00L246.57 343.00L246.54 342.00L246.46 341.00L246.39 340.00L246.28 339.00L246.20 338.00L246.08 337.00L246.01 336.00L245.90 335.00L245.86 334.00L245.75 333.00L245.66 332.00L245.61 331.00L245.58 330.00L245.52 329.00L245.48 328.00L245.45 327.00L245.38 326.00L245.34 325.00L245.29 324.00L245.24 323.00L245.19 322.00L245.15 321.00L245.12 320.00L245.11 319.00L245.07 318.00L245.05 317.00L245.03 316.00L245.01 315.00L245.00 314.00L245.00 313.00L245.00 312.00L245.01 311.00L245.03 310.00L245.06 309.00L245.08 308.00L245.13 307.00L245.18 306.00L245.23 305.00L245.28 304.00L245.35 303.00L245.40 302.00L245.45 301.00L245.52 300.00L245.58 299.00L245.63 298.00L245.71 297.00L245.70 296.08L245.27 294.62L244.34 293.66L242.91 293.13L242.00 292.97L241.00 292.91L240.00 292.81L239.00 292.78L238.00 292.73L237.00 292.61L236.00 292.58L235.00 292.52L234.00 292.49L233.00 292.40L232.00 292.36L231.00 292.27L230.00 292.21L229.00 292.15L228.00 292.13L227.00 292.11L226.00 292.08L225.00 292.05L224.00 292.04L223.00 292.02L222.00 292.00L221.00 292.00L220.00 292.00L219.00 292.02L218.00 292.03L217.00 292.05L216.00 292.08L215.00 292.10L214.00 292.16L213.00 292.23L212.00 292.25L211.00 292.29L210.00 292.34L209.00 292.38L208.00 292.44L207.00 292.54L206.00 292.58L205.00 292.63L204.00 292.69L203.00 292.74L202.00 292.80L201.00 292.86L200.00 292.93L199.00 293.05L198.00 293.10L197.00 293.21L196.00 293.32L195.00 293.43L194.00 293.46L193.00 293.56L192.00 293.64L191.00 293.68L190.00 293.72L189.00 293.74L188.00 293.80L187.00 293.82L186.00 293.85L185.00 293.90L184.00 293.92L183.00 293.94L182.00 293.96L181.00 293.97L180.00 293.99L179.00 294.00L178.00 294.00L177.00 293.99L176.00 293.98L175.00 293.96L174.00 293.93L173.00 293.92L172.00 293.89L171.00 293.87L170.00 293.85L169.00 293.80L168.00 293.76L167.00 293.72L166.00 293.69L165.00 293.65L164.00 293.57L163.00 293.53L162.00 293.46L161.00 293.42L160.00 293.31L159.00 293.23L158.00 293.20L157.00 293.14L156.00 293.07L155.00 293.01L154.00 292.97L153.00 292.86L152.00 292.80L151.00 292.75L150.00 292.65L149.00 292.61L148.00 292.58L147.00 292.48L146.00 292.44L145.00 292.39L144.00 292.35L143.00 292.29L142.00 292.24L141.00 292.18L140.00 292.16L139.00 292.11L138.00 292.07L137.00 292.05L136.00 292.02L135.00 292.01L134.00 292.01L133.00 292.00L132.00 292.00L131.00 292.00L130.00 292.01L129.00 292.01L128.00 292.03L127.00 292.05L126.00 292.06L125.00 292.09L124.00 292.12L123.00 292.16L122.00 292.19L121.00 292.26L120.00 292.30L119.00 292.33L118.00 292.40L117.00 292.49L116.00 292.55L115.00 292.58L114.00 292.62L113.00 292.72L112.00 292.76L111.00 292.80L110.00 292.84L109.00 292.91L108.00 292.96L107.00 292.99L106.00 293.10L105.00 293.14L104.00 293.17L103.00 293.25L102.00 293.29L101.00 293.33L100.00 293.38L99.00 293.49L98.00 293.58L97.00 293.65L96.00 293.74L94.00 293.81L93.12 293.92L91.85 294.43L91.24 295.24L90.98 296.37L90.98 297.07L91.00 298.00L91.00 299.00L90.99 300.00L90.98 301.00L90.96 302.00L90.93 303.00L90.92 304.00L90.89 305.00L90.82 306.00L90.78 307.00L90.73 308.00L90.65 309.00L90.60 310.00L90.57 311.00L90.51 312.00L90.42 313.00L90.39 314.00L90.28 315.00L90.17 316.00L90.14 317.00L90.05 318.00L89.99 319.00L89.88 320.00L89.77 321.00L89.73 322.00L89.69 323.00L89.65 324.00L89.61 325.00L89.53 326.00L89.46 327.00L89.43 328.00L89.40 329.00L89.34 330.00L89.30 331.00L89.27 332.00L89.24 333.00L89.20 334.00L89.15 335.00L89.12 336.00L89.09 337.00L89.07 338.00L89.04 339.00L89.02 340.00L89.01 341.00L89.00 342.00L89.00 343.00L89.00 344.00L89.01 345.00L89.03 346.00L89.06 347.00L89.11 348.00L89.15 349.00L89.21 350.00L89.28 351.00L89.33 352.00L89.38 353.00L89.42 354.00L89.49 355.00L89.56 356.00L89.67 357.00L89.73 358.00L89.84 359.00L89.90 360.00L89.95 361.00L90.03 362.00L90.09 363.00L90.16 364.00L90.28 365.00L90.38 366.00L90.46 367.00L90.50 368.00L90.53 369.00L90.57 370.00L90.62 371.00L90.65 372.00L90.73 373.00L90.80 374.00L90.82 375.00L90.88 376.00L90.91 377.00L90.93 378.00L90.95 379.00L90.97 380.00L90.98 381.00L90.99 382.00L91.00 383.00L91.00 384.00L90.99 385.00L90.98 386.00L90.97 387.00L90.96 388.00L90.92 389.00L90.90 390.00L90.87 391.00L90.84 392.00L90.83 393.00L90.78 394.00L90.73 395.00L90.66 396.00L90.60 397.00L90.58 398.00L90.54 399.00L90.45 400.00L90.37 401.00L90.30 402.00L90.26 403.00L90.22 404.00L90.15 405.00L90.05 406.00L90.01 407.00L89.96 408.00L89.84 409.00L89.78 410.00L89.75 411.00L89.71 412.00L89.66 413.00L89.62 414.00L89.63 414.74L90.08 416.04L91.97 417.29L93.94 417.60L94.00 417.00Z" fill="#ffffff" fill-opacity="0.8" stroke="#ffffff" stroke-width="5.56" stroke-opacity="0.8"/>
<path d="M94.50 417.50L95.50 417.53L96.50 417.57L97.50 417.67L98.50 417.70L99.50 417.77L100.50 417.81L101.50 417.85L102.50 417.90L103.50 417.97L104.50 418.03L105.50 418.09L106.50 418.17L107.50 418.22L108.50 418.26L109.50 418.29L110.50 418.32L111.50 418.34L112.50 418.39L113.50 418.42L114.50 418.45L115.50 418.48L116.50 418.49L117.50 418.50L118.50 418.50L119.50 418.49L120.50 418.48L121.50 418.45L122.50 418.44L123.50 418.40L124.50 418.35L125.50 418.31L126.50 418.27L127.50 418.23L128.50 418.19L129.50 418.13L130.50 418.09L131.50 418.04L132.50 417.97L133.50 417.94L134.50 417.88L135.50 417.77L136.50 417.70L137.50 417.58L138.50 417.54L139.50 417.48L140.50 417.43L141.50 417.35L142.50 417.23L143.50 417.16L144.50 417.08L145.50 417.04L146.50 416.99L147.50 416.92L148.50 416.86L149.50 416.78L150.50 416.75L151.50 416.73L152.50 416.70L153.50 416.68L154.50 416.66L155.50 416.61L156.50 416.57L157.50 416.54L158.50 416.52L159.50 416.51L160.50 416.50L161.50 416.50L162.50 416.50L163.50 416.50L164.50 416.52L165.50 416.52L166.50 416.55L167.50 416.57L168.50 416.59L169.50 416.60L170.50 416.62L171.50 416.64L172.50 416.70L173.50 416.78L174.50 416.81L175.50 416.88L176.50 416.93L177.50 416.97L178.50 417.06L179.50 417.09L180.50 417.12L181.50 417.15L182.50 417.20L183.50 417.27L184.50 417.31L185.50 417.40L186.50 417.45L187.50 417.50L188.50 417.54L189.50 417.64L190.50 417.69L191.50 417.75L192.50 417.82L193.50 417.92L194.50 417.96L195.50 418.01L196.50 418.07L197.50 418.12L198.50 418.20L199.50 418.23L200.50 418.30L201.50 418.32L202.50 418.35L203.50 418.39L204.50 418.42L205.50 418.43L206.50 418.46L207.50 418.47L208.50 418.48L209.50 418.49L210.50 418.50L211.50 418.50L212.50 418.49L213.50 418.48L214.50 418.47L215.50 418.45L216.50 418.43L217.50 418.39L218.50 418.36L219.50 418.34L220.50 418.27L221.50 418.20L222.50 418.10L223.50 418.05L224.50 418.00L225.50 417.96L226.50 417.86L227.50 417.80L228.50 417.77L229.50 417.74L230.50 417.68L231.50 417.61L232.50 417.56L233.50 417.49L234.50 417.46L235.50 417.41L236.50 417.37L237.50 417.31L238.50 417.20L239.50 417.15L240.50 417.11L242.50 417.06L244.20 416.82L245.67 415.87L245.92 414.97L245.91 414.45L245.87 413.50L245.81 412.50L245.77 411.50L245.74 410.50L245.69 409.50L245.66 408.50L245.64 407.50L245.60 406.50L245.58 405.50L245.57 404.50L245.55 403.50L245.53 402.50L245.52 401.50L245.51 400.50L245.51 399.50L245.50 398.50L245.50 397.50L245.50 396.50L245.52 395.50L245.54 394.50L245.59 393.50L245.61 392.50L245.65 391.50L245.69 390.50L245.71 389.50L245.73 388.50L245.80 387.50L245.85 386.50L245.92 385.50L245.95 384.50L246.03 383.50L246.07 382.50L246.14 381.50L246.25 380.50L246.32 379.50L246.42 378.50L246.48 377.50L246.60 376.50L246.67 375.50L246.79 374.50L246.84 373.50L246.87 372.50L246.96 371.50L247.02 370.50L247.10 369.50L247.17 368.50L247.22 367.50L247.29 366.50L247.34 365.50L247.36 364.50L247.39 363.50L247.41 362.50L247.43 361.50L247.46 360.50L247.48 359.50L247.49 358.50L247.49 357.50L247.50 356.50L247.50 355.50L247.49 354.50L247.48 353.50L247.44 352.50L247.41 351.50L247.37 350.50L247.31 349.50L247.29 348.50L247.24 347.50L247.21 346.50L247.15 345.50L247.12 344.50L247.07 343.50L247.04 342.50L246.96 341.50L246.89 340.50L246.78 339.50L246.70 338.50L246.58 337.50L246.51 336.50L246.40 335.50L246.36 334.50L246.25 333.50L246.16 332.50L246.11 331.50L246.08 330.50L246.02 329.50L245.98 328.50L245.95 327.50L245.88 326.50L245.84 325.50L245.79 324.50L245.74 323.50L245.69 322.50L245.65 321.50L245.62 320.50L245.61 319.50L245.57 318.50L245.55 317.50L245.53 316.50L245.51 315.50L245.50 314.50L245.50 313.50L245.50 312.50L245.51 311.50L245.53 310.50L245.56 309.50L245.58 308.50L245.63 307.50L245.68 306.50L245.73 305.50L245.78 304.50L245.85 303.50L245.90 302.50L245.95 301.50L246.02 300.50L246.08 299.50L246.13 298.50L246.21 297.50L246.20 296.58L245.77 295.12L244.84 294.16L243.41 293.63L242.50 293.47L241.50 293.41L240.50 293.31L239.50 293.28L238.50 293.23L237.50 293.11L236.50 293.08L235.50 293.02L234.50 292.99L233.50 292.90L232.50 292.86L231.50 292.77L230.50 292.71L229.50 292.65L228.50 292.63L227.50 292.61L226.50 292.58L225.50 292.55L224.50 292.54L223.50 292.52L222.50 292.50L221.50 292.50L220.50 292.50L219.50 292.52L218.50 292.53L217.50 292.55L216.50 292.58L215.50 292.60L214.50 292.66L213.50 292.73L212.50 292.75L211.50 292.79L210.50 292.84L209.50 292.88L208.50 292.94L207.50 293.04L206.50 293.08L205.50 293.13L204.50 293.19L203.50 293.24L202.50 293.30L201.50 293.36L200.50 293.43L199.50 293.55L198.50 293.60L197.50 293.71L196.50 293.82L195.50 293.93L194.50 293.96L193.50 294.06L192.50 294.14L191.50 294.18L190.50 294.22L189.50 294.24L188.50 294.30L187.50 294.32L186.50 294.35L185.50 294.40L184.50 294.42L183.50 294.44L182.50 294.46L181.50 294.47L180.50 294.49L179.50 294.50L178.50 294.50L177.50 294.49L176.50 294.48L175.50 294.46L174.50 294.43L173.50 294.42L172.50 294.39L171.50 294.37L170.50 294.35L169.50 294.30L168.50 294.26L167.50 294.22L166.50 294.19L165.50 294.15L164.50 294.07L163.50 294.03L162.50 293.96L161.50 293.92L160.50 293.81L159.50 293.73L158.50 293.70L157.50 293.64L156.50 293.57L155.50 293.51L154.50 293.47L153.50 293.36L152.50 293.30L151.50 293.25L150.50 293.15L149.50 293.11L148.50 293.08L147.50 292.98L146.50 292.94L145.50 292.89L144.50 292.85L143.50 292.79L142.50 292.74L141.50 292.68L140.50 292.66L139.50 292.61L138.50 292.57L137.50 292.55L136.50 292.52L135.50 292.51L134.50 292.51L133.50 292.50L132.50 292.50L131.50 292.50L130.50 292.51L129.50 292.51L128.50 292.53L127.50 292.55L126.50 292.56L125.50 292.59L124.50 292.62L123.50 292.66L122.50 292.69L121.50 292.76L120.50 292.80L119.50 292.83L118.50 292.90L117.50 292.99L116.50 293.05L115.50 293.08L114.50 293.12L113.50 293.22L112.50 293.26L111.50 293.30L110.50 293.34L109.50 293.41L108.50 293.46L107.50 293.49L106.50 293.60L105.50 293.64L104.50 293.67L103.50 293.75L102.50 293.79L101.50 293.83L100.50 293.88L99.50 293.99L98.50 294.08L97.50 294.15L96.50 294.24L94.50 294.31L93.62 294.42L92.35 294.93L91.74 295.74L91.48 296.87L91.48 297.57L91.50 298.50L91.50 299.50L91.49 300.50L91.48 301.50L91.46 302.50L91.43 303.50L91.42 304.50L91.39 305.50L91.32 306.50L91.28 307.50L91.23 308.50L91.15 309.50L91.10 310.50L91.07 311.50L91.01 312.50L90.92 313.50L90.89 314.50L90.78 315.50L90.67 316.50L90.64 317.50L90.55 318.50L90.49 319.50L90.38 320.50L90.27 321.50L90.23 322.50L90.19 323.50L90.15 324.50L90.11 325.50L90.03 326.50L89.96 327.50L89.93 328.50L89.90 329.50L89.84 330.50L89.80 331.50L89.77 332.50L89.74 333.50L89.70 334.50L89.65 335.50L89.62 336.50L89.59 337.50L89.57 338.50L89.54 339.50L89.52 340.50L89.51 341.50L89.50 342.50L89.50 343.50L89.50 344.50L89.51 345.50L89.53 346.50L89.56 347.50L89.61 348.50L89.65 349.50L89.71 350.50L89.78 351.50L89.83 352.50L89.88 353.50L89.92 354.50L89.99 355.50L90.06 356.50L90.17 357.50L90.23 358.50L90.34 359.50L90.40 360.50L90.45 361.50L90.53 362.50L90.59 363.50L90.66 364.50L90.78 365.50L90.88 366.50L90.96 367.50L91.00 368.50L91.03 369.50L91.07 370.50L91.12 371.50L91.15 372.50L91.23 373.50L91.30 374.50L91.32 375.50L91.38 376.50L91.41 377.50L91.43 378.50L91.45 379.50L91.47 380.50L91.48 381.50L91.49 382.50L91.50 383.50L91.50 384.50L91.49 385.50L91.48 386.50L91.47 387.50L91.46 388.50L91.42 389.50L91.40 390.50L91.37 391.50L91.34 392.50L91.33 393.50L91.28 394.50L91.23 395.50L91.16 396.50L91.10 397.50L91.08 398.50L91.04 399.50L90.95 400.50L90.87 401.50L90.80 402.50L90.76 403.50L90.72 404.50L90.65 405.50L90.55 406.50L90.51 407.50L90.46 408.50L90.34 409.50L90.28 410.50L90.25 411.50L90.21 412.50L90.16 413.50L90.12 414.50L90.13 415.24L90.58 416.54L92.47 417.79L94.44 418.10L94.50 417.50Z" fill="#ffffff" fill-opacity="0.8" stroke="#cccccc" stroke-width="1.39" stroke-opacity="0.8"/>
<g fill="#90ee90" stroke="#000000" stroke-width="1.39" stroke-linejoin="round">
<path transform="translate(117 310)" d="M-4.50 5.50L5.50 5.50L5.50 -4.50L-4.50 -4.50Z"/>
</g>
<text x="152.34" y="315.9" font-size="21.19" textLength="77.62" lengthAdjust="spacingAndGlyphs" fill="#000">cluster 1</text>
<g fill="#ffa500" stroke="#000000" stroke-width="1.39" stroke-linejoin="round">
<path transform="translate(117 340)" d="M0.50 5.41L1.47 5.35L3.24 4.61L3.97 3.97L4.61 3.24L5.35 1.47L5.41 0.50L5.35 -0.47L4.61 -2.24L3.97 -2.97L3.24 -3.61L1.47 -4.35L0.50 -4.41L-0.47 -4.35L-2.24 -3.61L-2.97 -2.97L-3.61 -2.24L-4.35 -0.47L-4.41 0.50L-4.35 1.47L-3.61 3.24L-2.97 3.97L-2.24 4.61L-0.47 5.35L0.50 5.41Z"/>
</g>
<text x="152.34" y="345.9" font-size="21.19" textLength="80.9" lengthAdjust="spacingAndGlyphs" fill="#000">cluster 2</text>
<g fill="#add8e6" stroke="#000000" stroke-width="1.39" stroke-linejoin="round">
<path transform="translate(117 370)" d="M0.50 5.41L5.41 -4.41L-4.41 -4.41Z"/>
</g>
<text x="152.34" y="374.9" font-size="21.19" textLength="80.9" lengthAdjust="spacingAndGlyphs" fill="#000">cluster 3</text>
<g fill="#ff0000" stroke="#000000" stroke-width="1.39" stroke-linejoin="round">
<path transform="translate(117 400)" d="M0.50 -10.48L-1.97 -2.89L-9.94 -2.89L-3.49 1.80L-5.95 9.38L0.50 4.69L6.95 9.38L4.49 1.80L10.94 -2.89L2.97 -2.89Z"/>
</g>
<text x="151.94" y="404.9" font-size="21.19" textLength="85.98" lengthAdjust="spacingAndGlyphs" fill="#000">centroids</text>
</svg>
</body>
</html>
